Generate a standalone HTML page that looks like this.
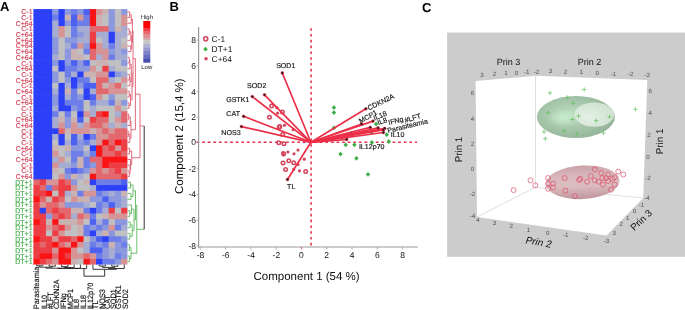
<!DOCTYPE html>
<html><head><meta charset="utf-8"><style>
html,body{margin:0;padding:0;background:#fff;width:685px;height:310px;overflow:hidden}
svg{display:block;font-family:"Liberation Sans", sans-serif;will-change:transform;text-rendering:geometricPrecision}
</style></head><body>
<svg width="685" height="310" viewBox="0 0 685 310" font-family="Liberation Sans, sans-serif">
<rect x="33.40" y="9.06" width="6.87" height="6.28" fill="rgb(44,64,248)"/>
<rect x="39.67" y="9.06" width="6.87" height="6.28" fill="rgb(44,64,248)"/>
<rect x="45.93" y="9.06" width="6.87" height="6.28" fill="rgb(44,64,248)"/>
<rect x="52.20" y="9.06" width="6.87" height="6.28" fill="rgb(140,152,222)"/>
<rect x="58.47" y="9.06" width="6.87" height="6.28" fill="rgb(44,64,248)"/>
<rect x="64.73" y="9.06" width="6.87" height="6.28" fill="rgb(140,152,222)"/>
<rect x="71.00" y="9.06" width="6.87" height="6.28" fill="rgb(110,126,232)"/>
<rect x="77.27" y="9.06" width="6.87" height="6.28" fill="rgb(140,152,222)"/>
<rect x="83.53" y="9.06" width="6.87" height="6.28" fill="rgb(76,96,242)"/>
<rect x="89.80" y="9.06" width="6.87" height="6.28" fill="rgb(250,20,22)"/>
<rect x="96.07" y="9.06" width="6.87" height="6.28" fill="rgb(214,148,150)"/>
<rect x="102.33" y="9.06" width="6.87" height="6.28" fill="rgb(203,178,178)"/>
<rect x="108.60" y="9.06" width="6.87" height="6.28" fill="rgb(140,152,222)"/>
<rect x="114.87" y="9.06" width="6.87" height="6.28" fill="rgb(192,192,195)"/>
<rect x="121.13" y="9.06" width="6.27" height="6.28" fill="rgb(140,152,222)"/>
<rect x="33.40" y="14.74" width="6.87" height="6.28" fill="rgb(44,64,248)"/>
<rect x="39.67" y="14.74" width="6.87" height="6.28" fill="rgb(44,64,248)"/>
<rect x="45.93" y="14.74" width="6.87" height="6.28" fill="rgb(44,64,248)"/>
<rect x="52.20" y="14.74" width="6.87" height="6.28" fill="rgb(110,126,232)"/>
<rect x="58.47" y="14.74" width="6.87" height="6.28" fill="rgb(44,64,248)"/>
<rect x="64.73" y="14.74" width="6.87" height="6.28" fill="rgb(203,178,178)"/>
<rect x="71.00" y="14.74" width="6.87" height="6.28" fill="rgb(76,96,242)"/>
<rect x="77.27" y="14.74" width="6.87" height="6.28" fill="rgb(214,148,150)"/>
<rect x="83.53" y="14.74" width="6.87" height="6.28" fill="rgb(110,126,232)"/>
<rect x="89.80" y="14.74" width="6.87" height="6.28" fill="rgb(250,20,22)"/>
<rect x="96.07" y="14.74" width="6.87" height="6.28" fill="rgb(203,178,178)"/>
<rect x="102.33" y="14.74" width="6.87" height="6.28" fill="rgb(192,192,195)"/>
<rect x="108.60" y="14.74" width="6.87" height="6.28" fill="rgb(140,152,222)"/>
<rect x="114.87" y="14.74" width="6.87" height="6.28" fill="rgb(192,192,195)"/>
<rect x="121.13" y="14.74" width="6.27" height="6.28" fill="rgb(214,148,150)"/>
<rect x="33.40" y="20.42" width="6.87" height="6.28" fill="rgb(44,64,248)"/>
<rect x="39.67" y="20.42" width="6.87" height="6.28" fill="rgb(44,64,248)"/>
<rect x="45.93" y="20.42" width="6.87" height="6.28" fill="rgb(44,64,248)"/>
<rect x="52.20" y="20.42" width="6.87" height="6.28" fill="rgb(166,172,210)"/>
<rect x="58.47" y="20.42" width="6.87" height="6.28" fill="rgb(44,64,248)"/>
<rect x="64.73" y="20.42" width="6.87" height="6.28" fill="rgb(140,152,222)"/>
<rect x="71.00" y="20.42" width="6.87" height="6.28" fill="rgb(76,96,242)"/>
<rect x="77.27" y="20.42" width="6.87" height="6.28" fill="rgb(110,126,232)"/>
<rect x="83.53" y="20.42" width="6.87" height="6.28" fill="rgb(110,126,232)"/>
<rect x="89.80" y="20.42" width="6.87" height="6.28" fill="rgb(250,20,22)"/>
<rect x="96.07" y="20.42" width="6.87" height="6.28" fill="rgb(203,178,178)"/>
<rect x="102.33" y="20.42" width="6.87" height="6.28" fill="rgb(192,192,195)"/>
<rect x="108.60" y="20.42" width="6.87" height="6.28" fill="rgb(140,152,222)"/>
<rect x="114.87" y="20.42" width="6.87" height="6.28" fill="rgb(192,192,195)"/>
<rect x="121.13" y="20.42" width="6.27" height="6.28" fill="rgb(214,148,150)"/>
<rect x="33.40" y="26.10" width="6.87" height="6.28" fill="rgb(44,64,248)"/>
<rect x="39.67" y="26.10" width="6.87" height="6.28" fill="rgb(44,64,248)"/>
<rect x="45.93" y="26.10" width="6.87" height="6.28" fill="rgb(44,64,248)"/>
<rect x="52.20" y="26.10" width="6.87" height="6.28" fill="rgb(166,172,210)"/>
<rect x="58.47" y="26.10" width="6.87" height="6.28" fill="rgb(214,148,150)"/>
<rect x="64.73" y="26.10" width="6.87" height="6.28" fill="rgb(192,192,195)"/>
<rect x="71.00" y="26.10" width="6.87" height="6.28" fill="rgb(110,126,232)"/>
<rect x="77.27" y="26.10" width="6.87" height="6.28" fill="rgb(166,172,210)"/>
<rect x="83.53" y="26.10" width="6.87" height="6.28" fill="rgb(166,172,210)"/>
<rect x="89.80" y="26.10" width="6.87" height="6.28" fill="rgb(226,104,110)"/>
<rect x="96.07" y="26.10" width="6.87" height="6.28" fill="rgb(226,104,110)"/>
<rect x="102.33" y="26.10" width="6.87" height="6.28" fill="rgb(226,104,110)"/>
<rect x="108.60" y="26.10" width="6.87" height="6.28" fill="rgb(140,152,222)"/>
<rect x="114.87" y="26.10" width="6.87" height="6.28" fill="rgb(203,178,178)"/>
<rect x="121.13" y="26.10" width="6.27" height="6.28" fill="rgb(166,172,210)"/>
<rect x="33.40" y="31.77" width="6.87" height="6.28" fill="rgb(44,64,248)"/>
<rect x="39.67" y="31.77" width="6.87" height="6.28" fill="rgb(44,64,248)"/>
<rect x="45.93" y="31.77" width="6.87" height="6.28" fill="rgb(44,64,248)"/>
<rect x="52.20" y="31.77" width="6.87" height="6.28" fill="rgb(166,172,210)"/>
<rect x="58.47" y="31.77" width="6.87" height="6.28" fill="rgb(214,148,150)"/>
<rect x="64.73" y="31.77" width="6.87" height="6.28" fill="rgb(192,192,195)"/>
<rect x="71.00" y="31.77" width="6.87" height="6.28" fill="rgb(110,126,232)"/>
<rect x="77.27" y="31.77" width="6.87" height="6.28" fill="rgb(140,152,222)"/>
<rect x="83.53" y="31.77" width="6.87" height="6.28" fill="rgb(166,172,210)"/>
<rect x="89.80" y="31.77" width="6.87" height="6.28" fill="rgb(236,62,68)"/>
<rect x="96.07" y="31.77" width="6.87" height="6.28" fill="rgb(166,172,210)"/>
<rect x="102.33" y="31.77" width="6.87" height="6.28" fill="rgb(166,172,210)"/>
<rect x="108.60" y="31.77" width="6.87" height="6.28" fill="rgb(44,64,248)"/>
<rect x="114.87" y="31.77" width="6.87" height="6.28" fill="rgb(166,172,210)"/>
<rect x="121.13" y="31.77" width="6.27" height="6.28" fill="rgb(166,172,210)"/>
<rect x="33.40" y="37.45" width="6.87" height="6.28" fill="rgb(44,64,248)"/>
<rect x="39.67" y="37.45" width="6.87" height="6.28" fill="rgb(44,64,248)"/>
<rect x="45.93" y="37.45" width="6.87" height="6.28" fill="rgb(44,64,248)"/>
<rect x="52.20" y="37.45" width="6.87" height="6.28" fill="rgb(140,152,222)"/>
<rect x="58.47" y="37.45" width="6.87" height="6.28" fill="rgb(192,192,195)"/>
<rect x="64.73" y="37.45" width="6.87" height="6.28" fill="rgb(140,152,222)"/>
<rect x="71.00" y="37.45" width="6.87" height="6.28" fill="rgb(140,152,222)"/>
<rect x="77.27" y="37.45" width="6.87" height="6.28" fill="rgb(166,172,210)"/>
<rect x="83.53" y="37.45" width="6.87" height="6.28" fill="rgb(166,172,210)"/>
<rect x="89.80" y="37.45" width="6.87" height="6.28" fill="rgb(236,62,68)"/>
<rect x="96.07" y="37.45" width="6.87" height="6.28" fill="rgb(192,192,195)"/>
<rect x="102.33" y="37.45" width="6.87" height="6.28" fill="rgb(166,172,210)"/>
<rect x="108.60" y="37.45" width="6.87" height="6.28" fill="rgb(44,64,248)"/>
<rect x="114.87" y="37.45" width="6.87" height="6.28" fill="rgb(166,172,210)"/>
<rect x="121.13" y="37.45" width="6.27" height="6.28" fill="rgb(192,192,195)"/>
<rect x="33.40" y="43.13" width="6.87" height="6.28" fill="rgb(44,64,248)"/>
<rect x="39.67" y="43.13" width="6.87" height="6.28" fill="rgb(44,64,248)"/>
<rect x="45.93" y="43.13" width="6.87" height="6.28" fill="rgb(44,64,248)"/>
<rect x="52.20" y="43.13" width="6.87" height="6.28" fill="rgb(140,152,222)"/>
<rect x="58.47" y="43.13" width="6.87" height="6.28" fill="rgb(192,192,195)"/>
<rect x="64.73" y="43.13" width="6.87" height="6.28" fill="rgb(166,172,210)"/>
<rect x="71.00" y="43.13" width="6.87" height="6.28" fill="rgb(110,126,232)"/>
<rect x="77.27" y="43.13" width="6.87" height="6.28" fill="rgb(214,148,150)"/>
<rect x="83.53" y="43.13" width="6.87" height="6.28" fill="rgb(140,152,222)"/>
<rect x="89.80" y="43.13" width="6.87" height="6.28" fill="rgb(250,20,22)"/>
<rect x="96.07" y="43.13" width="6.87" height="6.28" fill="rgb(214,148,150)"/>
<rect x="102.33" y="43.13" width="6.87" height="6.28" fill="rgb(166,172,210)"/>
<rect x="108.60" y="43.13" width="6.87" height="6.28" fill="rgb(110,126,232)"/>
<rect x="114.87" y="43.13" width="6.87" height="6.28" fill="rgb(166,172,210)"/>
<rect x="121.13" y="43.13" width="6.27" height="6.28" fill="rgb(203,178,178)"/>
<rect x="33.40" y="48.81" width="6.87" height="6.28" fill="rgb(44,64,248)"/>
<rect x="39.67" y="48.81" width="6.87" height="6.28" fill="rgb(44,64,248)"/>
<rect x="45.93" y="48.81" width="6.87" height="6.28" fill="rgb(44,64,248)"/>
<rect x="52.20" y="48.81" width="6.87" height="6.28" fill="rgb(140,152,222)"/>
<rect x="58.47" y="48.81" width="6.87" height="6.28" fill="rgb(192,192,195)"/>
<rect x="64.73" y="48.81" width="6.87" height="6.28" fill="rgb(140,152,222)"/>
<rect x="71.00" y="48.81" width="6.87" height="6.28" fill="rgb(203,178,178)"/>
<rect x="77.27" y="48.81" width="6.87" height="6.28" fill="rgb(192,192,195)"/>
<rect x="83.53" y="48.81" width="6.87" height="6.28" fill="rgb(110,126,232)"/>
<rect x="89.80" y="48.81" width="6.87" height="6.28" fill="rgb(226,104,110)"/>
<rect x="96.07" y="48.81" width="6.87" height="6.28" fill="rgb(214,148,150)"/>
<rect x="102.33" y="48.81" width="6.87" height="6.28" fill="rgb(214,148,150)"/>
<rect x="108.60" y="48.81" width="6.87" height="6.28" fill="rgb(140,152,222)"/>
<rect x="114.87" y="48.81" width="6.87" height="6.28" fill="rgb(166,172,210)"/>
<rect x="121.13" y="48.81" width="6.27" height="6.28" fill="rgb(140,152,222)"/>
<rect x="33.40" y="54.49" width="6.87" height="6.28" fill="rgb(44,64,248)"/>
<rect x="39.67" y="54.49" width="6.87" height="6.28" fill="rgb(44,64,248)"/>
<rect x="45.93" y="54.49" width="6.87" height="6.28" fill="rgb(44,64,248)"/>
<rect x="52.20" y="54.49" width="6.87" height="6.28" fill="rgb(166,172,210)"/>
<rect x="58.47" y="54.49" width="6.87" height="6.28" fill="rgb(192,192,195)"/>
<rect x="64.73" y="54.49" width="6.87" height="6.28" fill="rgb(140,152,222)"/>
<rect x="71.00" y="54.49" width="6.87" height="6.28" fill="rgb(203,178,178)"/>
<rect x="77.27" y="54.49" width="6.87" height="6.28" fill="rgb(203,178,178)"/>
<rect x="83.53" y="54.49" width="6.87" height="6.28" fill="rgb(192,192,195)"/>
<rect x="89.80" y="54.49" width="6.87" height="6.28" fill="rgb(226,104,110)"/>
<rect x="96.07" y="54.49" width="6.87" height="6.28" fill="rgb(166,172,210)"/>
<rect x="102.33" y="54.49" width="6.87" height="6.28" fill="rgb(214,148,150)"/>
<rect x="108.60" y="54.49" width="6.87" height="6.28" fill="rgb(110,126,232)"/>
<rect x="114.87" y="54.49" width="6.87" height="6.28" fill="rgb(166,172,210)"/>
<rect x="121.13" y="54.49" width="6.27" height="6.28" fill="rgb(166,172,210)"/>
<rect x="33.40" y="60.17" width="6.87" height="6.28" fill="rgb(44,64,248)"/>
<rect x="39.67" y="60.17" width="6.87" height="6.28" fill="rgb(44,64,248)"/>
<rect x="45.93" y="60.17" width="6.87" height="6.28" fill="rgb(44,64,248)"/>
<rect x="52.20" y="60.17" width="6.87" height="6.28" fill="rgb(140,152,222)"/>
<rect x="58.47" y="60.17" width="6.87" height="6.28" fill="rgb(44,64,248)"/>
<rect x="64.73" y="60.17" width="6.87" height="6.28" fill="rgb(140,152,222)"/>
<rect x="71.00" y="60.17" width="6.87" height="6.28" fill="rgb(76,96,242)"/>
<rect x="77.27" y="60.17" width="6.87" height="6.28" fill="rgb(140,152,222)"/>
<rect x="83.53" y="60.17" width="6.87" height="6.28" fill="rgb(76,96,242)"/>
<rect x="89.80" y="60.17" width="6.87" height="6.28" fill="rgb(192,192,195)"/>
<rect x="96.07" y="60.17" width="6.87" height="6.28" fill="rgb(203,178,178)"/>
<rect x="102.33" y="60.17" width="6.87" height="6.28" fill="rgb(203,178,178)"/>
<rect x="108.60" y="60.17" width="6.87" height="6.28" fill="rgb(192,192,195)"/>
<rect x="114.87" y="60.17" width="6.87" height="6.28" fill="rgb(192,192,195)"/>
<rect x="121.13" y="60.17" width="6.27" height="6.28" fill="rgb(140,152,222)"/>
<rect x="33.40" y="65.85" width="6.87" height="6.28" fill="rgb(44,64,248)"/>
<rect x="39.67" y="65.85" width="6.87" height="6.28" fill="rgb(44,64,248)"/>
<rect x="45.93" y="65.85" width="6.87" height="6.28" fill="rgb(44,64,248)"/>
<rect x="52.20" y="65.85" width="6.87" height="6.28" fill="rgb(192,192,195)"/>
<rect x="58.47" y="65.85" width="6.87" height="6.28" fill="rgb(44,64,248)"/>
<rect x="64.73" y="65.85" width="6.87" height="6.28" fill="rgb(110,126,232)"/>
<rect x="71.00" y="65.85" width="6.87" height="6.28" fill="rgb(110,126,232)"/>
<rect x="77.27" y="65.85" width="6.87" height="6.28" fill="rgb(140,152,222)"/>
<rect x="83.53" y="65.85" width="6.87" height="6.28" fill="rgb(140,152,222)"/>
<rect x="89.80" y="65.85" width="6.87" height="6.28" fill="rgb(214,148,150)"/>
<rect x="96.07" y="65.85" width="6.87" height="6.28" fill="rgb(192,192,195)"/>
<rect x="102.33" y="65.85" width="6.87" height="6.28" fill="rgb(236,62,68)"/>
<rect x="108.60" y="65.85" width="6.87" height="6.28" fill="rgb(166,172,210)"/>
<rect x="114.87" y="65.85" width="6.87" height="6.28" fill="rgb(192,192,195)"/>
<rect x="121.13" y="65.85" width="6.27" height="6.28" fill="rgb(192,192,195)"/>
<rect x="33.40" y="71.53" width="6.87" height="6.28" fill="rgb(44,64,248)"/>
<rect x="39.67" y="71.53" width="6.87" height="6.28" fill="rgb(44,64,248)"/>
<rect x="45.93" y="71.53" width="6.87" height="6.28" fill="rgb(44,64,248)"/>
<rect x="52.20" y="71.53" width="6.87" height="6.28" fill="rgb(140,152,222)"/>
<rect x="58.47" y="71.53" width="6.87" height="6.28" fill="rgb(192,192,195)"/>
<rect x="64.73" y="71.53" width="6.87" height="6.28" fill="rgb(110,126,232)"/>
<rect x="71.00" y="71.53" width="6.87" height="6.28" fill="rgb(166,172,210)"/>
<rect x="77.27" y="71.53" width="6.87" height="6.28" fill="rgb(44,64,248)"/>
<rect x="83.53" y="71.53" width="6.87" height="6.28" fill="rgb(203,178,178)"/>
<rect x="89.80" y="71.53" width="6.87" height="6.28" fill="rgb(203,178,178)"/>
<rect x="96.07" y="71.53" width="6.87" height="6.28" fill="rgb(214,148,150)"/>
<rect x="102.33" y="71.53" width="6.87" height="6.28" fill="rgb(214,148,150)"/>
<rect x="108.60" y="71.53" width="6.87" height="6.28" fill="rgb(44,64,248)"/>
<rect x="114.87" y="71.53" width="6.87" height="6.28" fill="rgb(140,152,222)"/>
<rect x="121.13" y="71.53" width="6.27" height="6.28" fill="rgb(166,172,210)"/>
<rect x="33.40" y="77.20" width="6.87" height="6.28" fill="rgb(44,64,248)"/>
<rect x="39.67" y="77.20" width="6.87" height="6.28" fill="rgb(44,64,248)"/>
<rect x="45.93" y="77.20" width="6.87" height="6.28" fill="rgb(44,64,248)"/>
<rect x="52.20" y="77.20" width="6.87" height="6.28" fill="rgb(140,152,222)"/>
<rect x="58.47" y="77.20" width="6.87" height="6.28" fill="rgb(192,192,195)"/>
<rect x="64.73" y="77.20" width="6.87" height="6.28" fill="rgb(140,152,222)"/>
<rect x="71.00" y="77.20" width="6.87" height="6.28" fill="rgb(44,64,248)"/>
<rect x="77.27" y="77.20" width="6.87" height="6.28" fill="rgb(110,126,232)"/>
<rect x="83.53" y="77.20" width="6.87" height="6.28" fill="rgb(110,126,232)"/>
<rect x="89.80" y="77.20" width="6.87" height="6.28" fill="rgb(192,192,195)"/>
<rect x="96.07" y="77.20" width="6.87" height="6.28" fill="rgb(226,104,110)"/>
<rect x="102.33" y="77.20" width="6.87" height="6.28" fill="rgb(226,104,110)"/>
<rect x="108.60" y="77.20" width="6.87" height="6.28" fill="rgb(166,172,210)"/>
<rect x="114.87" y="77.20" width="6.87" height="6.28" fill="rgb(192,192,195)"/>
<rect x="121.13" y="77.20" width="6.27" height="6.28" fill="rgb(214,148,150)"/>
<rect x="33.40" y="82.88" width="6.87" height="6.28" fill="rgb(44,64,248)"/>
<rect x="39.67" y="82.88" width="6.87" height="6.28" fill="rgb(44,64,248)"/>
<rect x="45.93" y="82.88" width="6.87" height="6.28" fill="rgb(44,64,248)"/>
<rect x="52.20" y="82.88" width="6.87" height="6.28" fill="rgb(192,192,195)"/>
<rect x="58.47" y="82.88" width="6.87" height="6.28" fill="rgb(44,64,248)"/>
<rect x="64.73" y="82.88" width="6.87" height="6.28" fill="rgb(166,172,210)"/>
<rect x="71.00" y="82.88" width="6.87" height="6.28" fill="rgb(44,64,248)"/>
<rect x="77.27" y="82.88" width="6.87" height="6.28" fill="rgb(140,152,222)"/>
<rect x="83.53" y="82.88" width="6.87" height="6.28" fill="rgb(76,96,242)"/>
<rect x="89.80" y="82.88" width="6.87" height="6.28" fill="rgb(76,96,242)"/>
<rect x="96.07" y="82.88" width="6.87" height="6.28" fill="rgb(226,104,110)"/>
<rect x="102.33" y="82.88" width="6.87" height="6.28" fill="rgb(203,178,178)"/>
<rect x="108.60" y="82.88" width="6.87" height="6.28" fill="rgb(214,148,150)"/>
<rect x="114.87" y="82.88" width="6.87" height="6.28" fill="rgb(226,104,110)"/>
<rect x="121.13" y="82.88" width="6.27" height="6.28" fill="rgb(192,192,195)"/>
<rect x="33.40" y="88.56" width="6.87" height="6.28" fill="rgb(44,64,248)"/>
<rect x="39.67" y="88.56" width="6.87" height="6.28" fill="rgb(44,64,248)"/>
<rect x="45.93" y="88.56" width="6.87" height="6.28" fill="rgb(44,64,248)"/>
<rect x="52.20" y="88.56" width="6.87" height="6.28" fill="rgb(166,172,210)"/>
<rect x="58.47" y="88.56" width="6.87" height="6.28" fill="rgb(44,64,248)"/>
<rect x="64.73" y="88.56" width="6.87" height="6.28" fill="rgb(203,178,178)"/>
<rect x="71.00" y="88.56" width="6.87" height="6.28" fill="rgb(110,126,232)"/>
<rect x="77.27" y="88.56" width="6.87" height="6.28" fill="rgb(192,192,195)"/>
<rect x="83.53" y="88.56" width="6.87" height="6.28" fill="rgb(44,64,248)"/>
<rect x="89.80" y="88.56" width="6.87" height="6.28" fill="rgb(166,172,210)"/>
<rect x="96.07" y="88.56" width="6.87" height="6.28" fill="rgb(226,104,110)"/>
<rect x="102.33" y="88.56" width="6.87" height="6.28" fill="rgb(226,104,110)"/>
<rect x="108.60" y="88.56" width="6.87" height="6.28" fill="rgb(214,148,150)"/>
<rect x="114.87" y="88.56" width="6.87" height="6.28" fill="rgb(214,148,150)"/>
<rect x="121.13" y="88.56" width="6.27" height="6.28" fill="rgb(214,148,150)"/>
<rect x="33.40" y="94.24" width="6.87" height="6.28" fill="rgb(44,64,248)"/>
<rect x="39.67" y="94.24" width="6.87" height="6.28" fill="rgb(44,64,248)"/>
<rect x="45.93" y="94.24" width="6.87" height="6.28" fill="rgb(44,64,248)"/>
<rect x="52.20" y="94.24" width="6.87" height="6.28" fill="rgb(140,152,222)"/>
<rect x="58.47" y="94.24" width="6.87" height="6.28" fill="rgb(44,64,248)"/>
<rect x="64.73" y="94.24" width="6.87" height="6.28" fill="rgb(166,172,210)"/>
<rect x="71.00" y="94.24" width="6.87" height="6.28" fill="rgb(110,126,232)"/>
<rect x="77.27" y="94.24" width="6.87" height="6.28" fill="rgb(140,152,222)"/>
<rect x="83.53" y="94.24" width="6.87" height="6.28" fill="rgb(44,64,248)"/>
<rect x="89.80" y="94.24" width="6.87" height="6.28" fill="rgb(76,96,242)"/>
<rect x="96.07" y="94.24" width="6.87" height="6.28" fill="rgb(214,148,150)"/>
<rect x="102.33" y="94.24" width="6.87" height="6.28" fill="rgb(192,192,195)"/>
<rect x="108.60" y="94.24" width="6.87" height="6.28" fill="rgb(140,152,222)"/>
<rect x="114.87" y="94.24" width="6.87" height="6.28" fill="rgb(192,192,195)"/>
<rect x="121.13" y="94.24" width="6.27" height="6.28" fill="rgb(192,192,195)"/>
<rect x="33.40" y="99.92" width="6.87" height="6.28" fill="rgb(44,64,248)"/>
<rect x="39.67" y="99.92" width="6.87" height="6.28" fill="rgb(44,64,248)"/>
<rect x="45.93" y="99.92" width="6.87" height="6.28" fill="rgb(44,64,248)"/>
<rect x="52.20" y="99.92" width="6.87" height="6.28" fill="rgb(140,152,222)"/>
<rect x="58.47" y="99.92" width="6.87" height="6.28" fill="rgb(44,64,248)"/>
<rect x="64.73" y="99.92" width="6.87" height="6.28" fill="rgb(110,126,232)"/>
<rect x="71.00" y="99.92" width="6.87" height="6.28" fill="rgb(110,126,232)"/>
<rect x="77.27" y="99.92" width="6.87" height="6.28" fill="rgb(110,126,232)"/>
<rect x="83.53" y="99.92" width="6.87" height="6.28" fill="rgb(192,192,195)"/>
<rect x="89.80" y="99.92" width="6.87" height="6.28" fill="rgb(110,126,232)"/>
<rect x="96.07" y="99.92" width="6.87" height="6.28" fill="rgb(166,172,210)"/>
<rect x="102.33" y="99.92" width="6.87" height="6.28" fill="rgb(166,172,210)"/>
<rect x="108.60" y="99.92" width="6.87" height="6.28" fill="rgb(110,126,232)"/>
<rect x="114.87" y="99.92" width="6.87" height="6.28" fill="rgb(203,178,178)"/>
<rect x="121.13" y="99.92" width="6.27" height="6.28" fill="rgb(140,152,222)"/>
<rect x="33.40" y="105.60" width="6.87" height="6.28" fill="rgb(44,64,248)"/>
<rect x="39.67" y="105.60" width="6.87" height="6.28" fill="rgb(44,64,248)"/>
<rect x="45.93" y="105.60" width="6.87" height="6.28" fill="rgb(44,64,248)"/>
<rect x="52.20" y="105.60" width="6.87" height="6.28" fill="rgb(166,172,210)"/>
<rect x="58.47" y="105.60" width="6.87" height="6.28" fill="rgb(44,64,248)"/>
<rect x="64.73" y="105.60" width="6.87" height="6.28" fill="rgb(44,64,248)"/>
<rect x="71.00" y="105.60" width="6.87" height="6.28" fill="rgb(140,152,222)"/>
<rect x="77.27" y="105.60" width="6.87" height="6.28" fill="rgb(110,126,232)"/>
<rect x="83.53" y="105.60" width="6.87" height="6.28" fill="rgb(192,192,195)"/>
<rect x="89.80" y="105.60" width="6.87" height="6.28" fill="rgb(166,172,210)"/>
<rect x="96.07" y="105.60" width="6.87" height="6.28" fill="rgb(192,192,195)"/>
<rect x="102.33" y="105.60" width="6.87" height="6.28" fill="rgb(192,192,195)"/>
<rect x="108.60" y="105.60" width="6.87" height="6.28" fill="rgb(192,192,195)"/>
<rect x="114.87" y="105.60" width="6.87" height="6.28" fill="rgb(214,148,150)"/>
<rect x="121.13" y="105.60" width="6.27" height="6.28" fill="rgb(192,192,195)"/>
<rect x="33.40" y="111.28" width="6.87" height="6.28" fill="rgb(44,64,248)"/>
<rect x="39.67" y="111.28" width="6.87" height="6.28" fill="rgb(44,64,248)"/>
<rect x="45.93" y="111.28" width="6.87" height="6.28" fill="rgb(44,64,248)"/>
<rect x="52.20" y="111.28" width="6.87" height="6.28" fill="rgb(110,126,232)"/>
<rect x="58.47" y="111.28" width="6.87" height="6.28" fill="rgb(192,192,195)"/>
<rect x="64.73" y="111.28" width="6.87" height="6.28" fill="rgb(110,126,232)"/>
<rect x="71.00" y="111.28" width="6.87" height="6.28" fill="rgb(192,192,195)"/>
<rect x="77.27" y="111.28" width="6.87" height="6.28" fill="rgb(44,64,248)"/>
<rect x="83.53" y="111.28" width="6.87" height="6.28" fill="rgb(214,148,150)"/>
<rect x="89.80" y="111.28" width="6.87" height="6.28" fill="rgb(166,172,210)"/>
<rect x="96.07" y="111.28" width="6.87" height="6.28" fill="rgb(236,62,68)"/>
<rect x="102.33" y="111.28" width="6.87" height="6.28" fill="rgb(250,20,22)"/>
<rect x="108.60" y="111.28" width="6.87" height="6.28" fill="rgb(192,192,195)"/>
<rect x="114.87" y="111.28" width="6.87" height="6.28" fill="rgb(166,172,210)"/>
<rect x="121.13" y="111.28" width="6.27" height="6.28" fill="rgb(226,104,110)"/>
<rect x="33.40" y="116.95" width="6.87" height="6.28" fill="rgb(44,64,248)"/>
<rect x="39.67" y="116.95" width="6.87" height="6.28" fill="rgb(44,64,248)"/>
<rect x="45.93" y="116.95" width="6.87" height="6.28" fill="rgb(44,64,248)"/>
<rect x="52.20" y="116.95" width="6.87" height="6.28" fill="rgb(166,172,210)"/>
<rect x="58.47" y="116.95" width="6.87" height="6.28" fill="rgb(203,178,178)"/>
<rect x="64.73" y="116.95" width="6.87" height="6.28" fill="rgb(140,152,222)"/>
<rect x="71.00" y="116.95" width="6.87" height="6.28" fill="rgb(203,178,178)"/>
<rect x="77.27" y="116.95" width="6.87" height="6.28" fill="rgb(76,96,242)"/>
<rect x="83.53" y="116.95" width="6.87" height="6.28" fill="rgb(192,192,195)"/>
<rect x="89.80" y="116.95" width="6.87" height="6.28" fill="rgb(236,62,68)"/>
<rect x="96.07" y="116.95" width="6.87" height="6.28" fill="rgb(226,104,110)"/>
<rect x="102.33" y="116.95" width="6.87" height="6.28" fill="rgb(226,104,110)"/>
<rect x="108.60" y="116.95" width="6.87" height="6.28" fill="rgb(192,192,195)"/>
<rect x="114.87" y="116.95" width="6.87" height="6.28" fill="rgb(214,148,150)"/>
<rect x="121.13" y="116.95" width="6.27" height="6.28" fill="rgb(226,104,110)"/>
<rect x="33.40" y="122.63" width="6.87" height="6.28" fill="rgb(44,64,248)"/>
<rect x="39.67" y="122.63" width="6.87" height="6.28" fill="rgb(44,64,248)"/>
<rect x="45.93" y="122.63" width="6.87" height="6.28" fill="rgb(44,64,248)"/>
<rect x="52.20" y="122.63" width="6.87" height="6.28" fill="rgb(166,172,210)"/>
<rect x="58.47" y="122.63" width="6.87" height="6.28" fill="rgb(214,148,150)"/>
<rect x="64.73" y="122.63" width="6.87" height="6.28" fill="rgb(140,152,222)"/>
<rect x="71.00" y="122.63" width="6.87" height="6.28" fill="rgb(214,148,150)"/>
<rect x="77.27" y="122.63" width="6.87" height="6.28" fill="rgb(166,172,210)"/>
<rect x="83.53" y="122.63" width="6.87" height="6.28" fill="rgb(214,148,150)"/>
<rect x="89.80" y="122.63" width="6.87" height="6.28" fill="rgb(226,104,110)"/>
<rect x="96.07" y="122.63" width="6.87" height="6.28" fill="rgb(226,104,110)"/>
<rect x="102.33" y="122.63" width="6.87" height="6.28" fill="rgb(214,148,150)"/>
<rect x="108.60" y="122.63" width="6.87" height="6.28" fill="rgb(166,172,210)"/>
<rect x="114.87" y="122.63" width="6.87" height="6.28" fill="rgb(203,178,178)"/>
<rect x="121.13" y="122.63" width="6.27" height="6.28" fill="rgb(166,172,210)"/>
<rect x="33.40" y="128.31" width="6.87" height="6.28" fill="rgb(44,64,248)"/>
<rect x="39.67" y="128.31" width="6.87" height="6.28" fill="rgb(44,64,248)"/>
<rect x="45.93" y="128.31" width="6.87" height="6.28" fill="rgb(44,64,248)"/>
<rect x="52.20" y="128.31" width="6.87" height="6.28" fill="rgb(44,64,248)"/>
<rect x="58.47" y="128.31" width="6.87" height="6.28" fill="rgb(226,104,110)"/>
<rect x="64.73" y="128.31" width="6.87" height="6.28" fill="rgb(203,178,178)"/>
<rect x="71.00" y="128.31" width="6.87" height="6.28" fill="rgb(214,148,150)"/>
<rect x="77.27" y="128.31" width="6.87" height="6.28" fill="rgb(214,148,150)"/>
<rect x="83.53" y="128.31" width="6.87" height="6.28" fill="rgb(214,148,150)"/>
<rect x="89.80" y="128.31" width="6.87" height="6.28" fill="rgb(203,178,178)"/>
<rect x="96.07" y="128.31" width="6.87" height="6.28" fill="rgb(214,148,150)"/>
<rect x="102.33" y="128.31" width="6.87" height="6.28" fill="rgb(226,104,110)"/>
<rect x="108.60" y="128.31" width="6.87" height="6.28" fill="rgb(214,148,150)"/>
<rect x="114.87" y="128.31" width="6.87" height="6.28" fill="rgb(226,104,110)"/>
<rect x="121.13" y="128.31" width="6.27" height="6.28" fill="rgb(226,104,110)"/>
<rect x="33.40" y="133.99" width="6.87" height="6.28" fill="rgb(44,64,248)"/>
<rect x="39.67" y="133.99" width="6.87" height="6.28" fill="rgb(44,64,248)"/>
<rect x="45.93" y="133.99" width="6.87" height="6.28" fill="rgb(44,64,248)"/>
<rect x="52.20" y="133.99" width="6.87" height="6.28" fill="rgb(166,172,210)"/>
<rect x="58.47" y="133.99" width="6.87" height="6.28" fill="rgb(44,64,248)"/>
<rect x="64.73" y="133.99" width="6.87" height="6.28" fill="rgb(192,192,195)"/>
<rect x="71.00" y="133.99" width="6.87" height="6.28" fill="rgb(76,96,242)"/>
<rect x="77.27" y="133.99" width="6.87" height="6.28" fill="rgb(166,172,210)"/>
<rect x="83.53" y="133.99" width="6.87" height="6.28" fill="rgb(44,64,248)"/>
<rect x="89.80" y="133.99" width="6.87" height="6.28" fill="rgb(110,126,232)"/>
<rect x="96.07" y="133.99" width="6.87" height="6.28" fill="rgb(214,148,150)"/>
<rect x="102.33" y="133.99" width="6.87" height="6.28" fill="rgb(214,148,150)"/>
<rect x="108.60" y="133.99" width="6.87" height="6.28" fill="rgb(226,104,110)"/>
<rect x="114.87" y="133.99" width="6.87" height="6.28" fill="rgb(226,104,110)"/>
<rect x="121.13" y="133.99" width="6.27" height="6.28" fill="rgb(226,104,110)"/>
<rect x="33.40" y="139.67" width="6.87" height="6.28" fill="rgb(44,64,248)"/>
<rect x="39.67" y="139.67" width="6.87" height="6.28" fill="rgb(44,64,248)"/>
<rect x="45.93" y="139.67" width="6.87" height="6.28" fill="rgb(44,64,248)"/>
<rect x="52.20" y="139.67" width="6.87" height="6.28" fill="rgb(192,192,195)"/>
<rect x="58.47" y="139.67" width="6.87" height="6.28" fill="rgb(44,64,248)"/>
<rect x="64.73" y="139.67" width="6.87" height="6.28" fill="rgb(166,172,210)"/>
<rect x="71.00" y="139.67" width="6.87" height="6.28" fill="rgb(76,96,242)"/>
<rect x="77.27" y="139.67" width="6.87" height="6.28" fill="rgb(140,152,222)"/>
<rect x="83.53" y="139.67" width="6.87" height="6.28" fill="rgb(110,126,232)"/>
<rect x="89.80" y="139.67" width="6.87" height="6.28" fill="rgb(166,172,210)"/>
<rect x="96.07" y="139.67" width="6.87" height="6.28" fill="rgb(214,148,150)"/>
<rect x="102.33" y="139.67" width="6.87" height="6.28" fill="rgb(250,20,22)"/>
<rect x="108.60" y="139.67" width="6.87" height="6.28" fill="rgb(226,104,110)"/>
<rect x="114.87" y="139.67" width="6.87" height="6.28" fill="rgb(250,20,22)"/>
<rect x="121.13" y="139.67" width="6.27" height="6.28" fill="rgb(236,62,68)"/>
<rect x="33.40" y="145.35" width="6.87" height="6.28" fill="rgb(44,64,248)"/>
<rect x="39.67" y="145.35" width="6.87" height="6.28" fill="rgb(44,64,248)"/>
<rect x="45.93" y="145.35" width="6.87" height="6.28" fill="rgb(44,64,248)"/>
<rect x="52.20" y="145.35" width="6.87" height="6.28" fill="rgb(203,178,178)"/>
<rect x="58.47" y="145.35" width="6.87" height="6.28" fill="rgb(192,192,195)"/>
<rect x="64.73" y="145.35" width="6.87" height="6.28" fill="rgb(203,178,178)"/>
<rect x="71.00" y="145.35" width="6.87" height="6.28" fill="rgb(140,152,222)"/>
<rect x="77.27" y="145.35" width="6.87" height="6.28" fill="rgb(140,152,222)"/>
<rect x="83.53" y="145.35" width="6.87" height="6.28" fill="rgb(192,192,195)"/>
<rect x="89.80" y="145.35" width="6.87" height="6.28" fill="rgb(44,64,248)"/>
<rect x="96.07" y="145.35" width="6.87" height="6.28" fill="rgb(250,20,22)"/>
<rect x="102.33" y="145.35" width="6.87" height="6.28" fill="rgb(226,104,110)"/>
<rect x="108.60" y="145.35" width="6.87" height="6.28" fill="rgb(236,62,68)"/>
<rect x="114.87" y="145.35" width="6.87" height="6.28" fill="rgb(214,148,150)"/>
<rect x="121.13" y="145.35" width="6.27" height="6.28" fill="rgb(236,62,68)"/>
<rect x="33.40" y="151.03" width="6.87" height="6.28" fill="rgb(44,64,248)"/>
<rect x="39.67" y="151.03" width="6.87" height="6.28" fill="rgb(44,64,248)"/>
<rect x="45.93" y="151.03" width="6.87" height="6.28" fill="rgb(44,64,248)"/>
<rect x="52.20" y="151.03" width="6.87" height="6.28" fill="rgb(214,148,150)"/>
<rect x="58.47" y="151.03" width="6.87" height="6.28" fill="rgb(192,192,195)"/>
<rect x="64.73" y="151.03" width="6.87" height="6.28" fill="rgb(166,172,210)"/>
<rect x="71.00" y="151.03" width="6.87" height="6.28" fill="rgb(110,126,232)"/>
<rect x="77.27" y="151.03" width="6.87" height="6.28" fill="rgb(110,126,232)"/>
<rect x="83.53" y="151.03" width="6.87" height="6.28" fill="rgb(166,172,210)"/>
<rect x="89.80" y="151.03" width="6.87" height="6.28" fill="rgb(110,126,232)"/>
<rect x="96.07" y="151.03" width="6.87" height="6.28" fill="rgb(250,20,22)"/>
<rect x="102.33" y="151.03" width="6.87" height="6.28" fill="rgb(226,104,110)"/>
<rect x="108.60" y="151.03" width="6.87" height="6.28" fill="rgb(226,104,110)"/>
<rect x="114.87" y="151.03" width="6.87" height="6.28" fill="rgb(236,62,68)"/>
<rect x="121.13" y="151.03" width="6.27" height="6.28" fill="rgb(226,104,110)"/>
<rect x="33.40" y="156.71" width="6.87" height="6.28" fill="rgb(44,64,248)"/>
<rect x="39.67" y="156.71" width="6.87" height="6.28" fill="rgb(44,64,248)"/>
<rect x="45.93" y="156.71" width="6.87" height="6.28" fill="rgb(44,64,248)"/>
<rect x="52.20" y="156.71" width="6.87" height="6.28" fill="rgb(166,172,210)"/>
<rect x="58.47" y="156.71" width="6.87" height="6.28" fill="rgb(214,148,150)"/>
<rect x="64.73" y="156.71" width="6.87" height="6.28" fill="rgb(192,192,195)"/>
<rect x="71.00" y="156.71" width="6.87" height="6.28" fill="rgb(110,126,232)"/>
<rect x="77.27" y="156.71" width="6.87" height="6.28" fill="rgb(203,178,178)"/>
<rect x="83.53" y="156.71" width="6.87" height="6.28" fill="rgb(110,126,232)"/>
<rect x="89.80" y="156.71" width="6.87" height="6.28" fill="rgb(226,104,110)"/>
<rect x="96.07" y="156.71" width="6.87" height="6.28" fill="rgb(226,104,110)"/>
<rect x="102.33" y="156.71" width="6.87" height="6.28" fill="rgb(250,20,22)"/>
<rect x="108.60" y="156.71" width="6.87" height="6.28" fill="rgb(250,20,22)"/>
<rect x="114.87" y="156.71" width="6.87" height="6.28" fill="rgb(250,20,22)"/>
<rect x="121.13" y="156.71" width="6.27" height="6.28" fill="rgb(250,20,22)"/>
<rect x="33.40" y="162.38" width="6.87" height="6.28" fill="rgb(44,64,248)"/>
<rect x="39.67" y="162.38" width="6.87" height="6.28" fill="rgb(44,64,248)"/>
<rect x="45.93" y="162.38" width="6.87" height="6.28" fill="rgb(44,64,248)"/>
<rect x="52.20" y="162.38" width="6.87" height="6.28" fill="rgb(214,148,150)"/>
<rect x="58.47" y="162.38" width="6.87" height="6.28" fill="rgb(166,172,210)"/>
<rect x="64.73" y="162.38" width="6.87" height="6.28" fill="rgb(166,172,210)"/>
<rect x="71.00" y="162.38" width="6.87" height="6.28" fill="rgb(140,152,222)"/>
<rect x="77.27" y="162.38" width="6.87" height="6.28" fill="rgb(203,178,178)"/>
<rect x="83.53" y="162.38" width="6.87" height="6.28" fill="rgb(110,126,232)"/>
<rect x="89.80" y="162.38" width="6.87" height="6.28" fill="rgb(140,152,222)"/>
<rect x="96.07" y="162.38" width="6.87" height="6.28" fill="rgb(226,104,110)"/>
<rect x="102.33" y="162.38" width="6.87" height="6.28" fill="rgb(250,20,22)"/>
<rect x="108.60" y="162.38" width="6.87" height="6.28" fill="rgb(236,62,68)"/>
<rect x="114.87" y="162.38" width="6.87" height="6.28" fill="rgb(236,62,68)"/>
<rect x="121.13" y="162.38" width="6.27" height="6.28" fill="rgb(236,62,68)"/>
<rect x="33.40" y="168.06" width="6.87" height="6.28" fill="rgb(44,64,248)"/>
<rect x="39.67" y="168.06" width="6.87" height="6.28" fill="rgb(44,64,248)"/>
<rect x="45.93" y="168.06" width="6.87" height="6.28" fill="rgb(44,64,248)"/>
<rect x="52.20" y="168.06" width="6.87" height="6.28" fill="rgb(203,178,178)"/>
<rect x="58.47" y="168.06" width="6.87" height="6.28" fill="rgb(192,192,195)"/>
<rect x="64.73" y="168.06" width="6.87" height="6.28" fill="rgb(110,126,232)"/>
<rect x="71.00" y="168.06" width="6.87" height="6.28" fill="rgb(76,96,242)"/>
<rect x="77.27" y="168.06" width="6.87" height="6.28" fill="rgb(110,126,232)"/>
<rect x="83.53" y="168.06" width="6.87" height="6.28" fill="rgb(140,152,222)"/>
<rect x="89.80" y="168.06" width="6.87" height="6.28" fill="rgb(214,148,150)"/>
<rect x="96.07" y="168.06" width="6.87" height="6.28" fill="rgb(226,104,110)"/>
<rect x="102.33" y="168.06" width="6.87" height="6.28" fill="rgb(214,148,150)"/>
<rect x="108.60" y="168.06" width="6.87" height="6.28" fill="rgb(226,104,110)"/>
<rect x="114.87" y="168.06" width="6.87" height="6.28" fill="rgb(236,62,68)"/>
<rect x="121.13" y="168.06" width="6.27" height="6.28" fill="rgb(214,148,150)"/>
<rect x="33.40" y="173.74" width="6.87" height="6.28" fill="rgb(44,64,248)"/>
<rect x="39.67" y="173.74" width="6.87" height="6.28" fill="rgb(44,64,248)"/>
<rect x="45.93" y="173.74" width="6.87" height="6.28" fill="rgb(44,64,248)"/>
<rect x="52.20" y="173.74" width="6.87" height="6.28" fill="rgb(192,192,195)"/>
<rect x="58.47" y="173.74" width="6.87" height="6.28" fill="rgb(214,148,150)"/>
<rect x="64.73" y="173.74" width="6.87" height="6.28" fill="rgb(140,152,222)"/>
<rect x="71.00" y="173.74" width="6.87" height="6.28" fill="rgb(203,178,178)"/>
<rect x="77.27" y="173.74" width="6.87" height="6.28" fill="rgb(166,172,210)"/>
<rect x="83.53" y="173.74" width="6.87" height="6.28" fill="rgb(192,192,195)"/>
<rect x="89.80" y="173.74" width="6.87" height="6.28" fill="rgb(250,20,22)"/>
<rect x="96.07" y="173.74" width="6.87" height="6.28" fill="rgb(226,104,110)"/>
<rect x="102.33" y="173.74" width="6.87" height="6.28" fill="rgb(226,104,110)"/>
<rect x="108.60" y="173.74" width="6.87" height="6.28" fill="rgb(226,104,110)"/>
<rect x="114.87" y="173.74" width="6.87" height="6.28" fill="rgb(226,104,110)"/>
<rect x="121.13" y="173.74" width="6.27" height="6.28" fill="rgb(236,62,68)"/>
<rect x="33.40" y="179.42" width="6.87" height="6.28" fill="rgb(226,104,110)"/>
<rect x="39.67" y="179.42" width="6.87" height="6.28" fill="rgb(236,62,68)"/>
<rect x="45.93" y="179.42" width="6.87" height="6.28" fill="rgb(214,148,150)"/>
<rect x="52.20" y="179.42" width="6.87" height="6.28" fill="rgb(214,148,150)"/>
<rect x="58.47" y="179.42" width="6.87" height="6.28" fill="rgb(236,62,68)"/>
<rect x="64.73" y="179.42" width="6.87" height="6.28" fill="rgb(226,104,110)"/>
<rect x="71.00" y="179.42" width="6.87" height="6.28" fill="rgb(140,152,222)"/>
<rect x="77.27" y="179.42" width="6.87" height="6.28" fill="rgb(192,192,195)"/>
<rect x="83.53" y="179.42" width="6.87" height="6.28" fill="rgb(203,178,178)"/>
<rect x="89.80" y="179.42" width="6.87" height="6.28" fill="rgb(44,64,248)"/>
<rect x="96.07" y="179.42" width="6.87" height="6.28" fill="rgb(110,126,232)"/>
<rect x="102.33" y="179.42" width="6.87" height="6.28" fill="rgb(110,126,232)"/>
<rect x="108.60" y="179.42" width="6.87" height="6.28" fill="rgb(110,126,232)"/>
<rect x="114.87" y="179.42" width="6.87" height="6.28" fill="rgb(110,126,232)"/>
<rect x="121.13" y="179.42" width="6.27" height="6.28" fill="rgb(76,96,242)"/>
<rect x="33.40" y="185.10" width="6.87" height="6.28" fill="rgb(236,62,68)"/>
<rect x="39.67" y="185.10" width="6.87" height="6.28" fill="rgb(226,104,110)"/>
<rect x="45.93" y="185.10" width="6.87" height="6.28" fill="rgb(110,126,232)"/>
<rect x="52.20" y="185.10" width="6.87" height="6.28" fill="rgb(226,104,110)"/>
<rect x="58.47" y="185.10" width="6.87" height="6.28" fill="rgb(236,62,68)"/>
<rect x="64.73" y="185.10" width="6.87" height="6.28" fill="rgb(236,62,68)"/>
<rect x="71.00" y="185.10" width="6.87" height="6.28" fill="rgb(214,148,150)"/>
<rect x="77.27" y="185.10" width="6.87" height="6.28" fill="rgb(192,192,195)"/>
<rect x="83.53" y="185.10" width="6.87" height="6.28" fill="rgb(192,192,195)"/>
<rect x="89.80" y="185.10" width="6.87" height="6.28" fill="rgb(166,172,210)"/>
<rect x="96.07" y="185.10" width="6.87" height="6.28" fill="rgb(44,64,248)"/>
<rect x="102.33" y="185.10" width="6.87" height="6.28" fill="rgb(44,64,248)"/>
<rect x="108.60" y="185.10" width="6.87" height="6.28" fill="rgb(44,64,248)"/>
<rect x="114.87" y="185.10" width="6.87" height="6.28" fill="rgb(44,64,248)"/>
<rect x="121.13" y="185.10" width="6.27" height="6.28" fill="rgb(44,64,248)"/>
<rect x="33.40" y="190.78" width="6.87" height="6.28" fill="rgb(236,62,68)"/>
<rect x="39.67" y="190.78" width="6.87" height="6.28" fill="rgb(236,62,68)"/>
<rect x="45.93" y="190.78" width="6.87" height="6.28" fill="rgb(250,20,22)"/>
<rect x="52.20" y="190.78" width="6.87" height="6.28" fill="rgb(192,192,195)"/>
<rect x="58.47" y="190.78" width="6.87" height="6.28" fill="rgb(236,62,68)"/>
<rect x="64.73" y="190.78" width="6.87" height="6.28" fill="rgb(166,172,210)"/>
<rect x="71.00" y="190.78" width="6.87" height="6.28" fill="rgb(203,178,178)"/>
<rect x="77.27" y="190.78" width="6.87" height="6.28" fill="rgb(110,126,232)"/>
<rect x="83.53" y="190.78" width="6.87" height="6.28" fill="rgb(214,148,150)"/>
<rect x="89.80" y="190.78" width="6.87" height="6.28" fill="rgb(214,148,150)"/>
<rect x="96.07" y="190.78" width="6.87" height="6.28" fill="rgb(110,126,232)"/>
<rect x="102.33" y="190.78" width="6.87" height="6.28" fill="rgb(140,152,222)"/>
<rect x="108.60" y="190.78" width="6.87" height="6.28" fill="rgb(166,172,210)"/>
<rect x="114.87" y="190.78" width="6.87" height="6.28" fill="rgb(140,152,222)"/>
<rect x="121.13" y="190.78" width="6.27" height="6.28" fill="rgb(203,178,178)"/>
<rect x="33.40" y="196.46" width="6.87" height="6.28" fill="rgb(250,20,22)"/>
<rect x="39.67" y="196.46" width="6.87" height="6.28" fill="rgb(226,104,110)"/>
<rect x="45.93" y="196.46" width="6.87" height="6.28" fill="rgb(203,178,178)"/>
<rect x="52.20" y="196.46" width="6.87" height="6.28" fill="rgb(236,62,68)"/>
<rect x="58.47" y="196.46" width="6.87" height="6.28" fill="rgb(226,104,110)"/>
<rect x="64.73" y="196.46" width="6.87" height="6.28" fill="rgb(192,192,195)"/>
<rect x="71.00" y="196.46" width="6.87" height="6.28" fill="rgb(214,148,150)"/>
<rect x="77.27" y="196.46" width="6.87" height="6.28" fill="rgb(203,178,178)"/>
<rect x="83.53" y="196.46" width="6.87" height="6.28" fill="rgb(203,178,178)"/>
<rect x="89.80" y="196.46" width="6.87" height="6.28" fill="rgb(140,152,222)"/>
<rect x="96.07" y="196.46" width="6.87" height="6.28" fill="rgb(140,152,222)"/>
<rect x="102.33" y="196.46" width="6.87" height="6.28" fill="rgb(76,96,242)"/>
<rect x="108.60" y="196.46" width="6.87" height="6.28" fill="rgb(140,152,222)"/>
<rect x="114.87" y="196.46" width="6.87" height="6.28" fill="rgb(140,152,222)"/>
<rect x="121.13" y="196.46" width="6.27" height="6.28" fill="rgb(166,172,210)"/>
<rect x="33.40" y="202.13" width="6.87" height="6.28" fill="rgb(236,62,68)"/>
<rect x="39.67" y="202.13" width="6.87" height="6.28" fill="rgb(214,148,150)"/>
<rect x="45.93" y="202.13" width="6.87" height="6.28" fill="rgb(226,104,110)"/>
<rect x="52.20" y="202.13" width="6.87" height="6.28" fill="rgb(226,104,110)"/>
<rect x="58.47" y="202.13" width="6.87" height="6.28" fill="rgb(214,148,150)"/>
<rect x="64.73" y="202.13" width="6.87" height="6.28" fill="rgb(140,152,222)"/>
<rect x="71.00" y="202.13" width="6.87" height="6.28" fill="rgb(140,152,222)"/>
<rect x="77.27" y="202.13" width="6.87" height="6.28" fill="rgb(140,152,222)"/>
<rect x="83.53" y="202.13" width="6.87" height="6.28" fill="rgb(166,172,210)"/>
<rect x="89.80" y="202.13" width="6.87" height="6.28" fill="rgb(192,192,195)"/>
<rect x="96.07" y="202.13" width="6.87" height="6.28" fill="rgb(110,126,232)"/>
<rect x="102.33" y="202.13" width="6.87" height="6.28" fill="rgb(140,152,222)"/>
<rect x="108.60" y="202.13" width="6.87" height="6.28" fill="rgb(76,96,242)"/>
<rect x="114.87" y="202.13" width="6.87" height="6.28" fill="rgb(140,152,222)"/>
<rect x="121.13" y="202.13" width="6.27" height="6.28" fill="rgb(166,172,210)"/>
<rect x="33.40" y="207.81" width="6.87" height="6.28" fill="rgb(236,62,68)"/>
<rect x="39.67" y="207.81" width="6.87" height="6.28" fill="rgb(44,64,248)"/>
<rect x="45.93" y="207.81" width="6.87" height="6.28" fill="rgb(226,104,110)"/>
<rect x="52.20" y="207.81" width="6.87" height="6.28" fill="rgb(236,62,68)"/>
<rect x="58.47" y="207.81" width="6.87" height="6.28" fill="rgb(226,104,110)"/>
<rect x="64.73" y="207.81" width="6.87" height="6.28" fill="rgb(226,104,110)"/>
<rect x="71.00" y="207.81" width="6.87" height="6.28" fill="rgb(203,178,178)"/>
<rect x="77.27" y="207.81" width="6.87" height="6.28" fill="rgb(203,178,178)"/>
<rect x="83.53" y="207.81" width="6.87" height="6.28" fill="rgb(110,126,232)"/>
<rect x="89.80" y="207.81" width="6.87" height="6.28" fill="rgb(44,64,248)"/>
<rect x="96.07" y="207.81" width="6.87" height="6.28" fill="rgb(110,126,232)"/>
<rect x="102.33" y="207.81" width="6.87" height="6.28" fill="rgb(166,172,210)"/>
<rect x="108.60" y="207.81" width="6.87" height="6.28" fill="rgb(236,62,68)"/>
<rect x="114.87" y="207.81" width="6.87" height="6.28" fill="rgb(192,192,195)"/>
<rect x="121.13" y="207.81" width="6.27" height="6.28" fill="rgb(236,62,68)"/>
<rect x="33.40" y="213.49" width="6.87" height="6.28" fill="rgb(236,62,68)"/>
<rect x="39.67" y="213.49" width="6.87" height="6.28" fill="rgb(236,62,68)"/>
<rect x="45.93" y="213.49" width="6.87" height="6.28" fill="rgb(140,152,222)"/>
<rect x="52.20" y="213.49" width="6.87" height="6.28" fill="rgb(226,104,110)"/>
<rect x="58.47" y="213.49" width="6.87" height="6.28" fill="rgb(236,62,68)"/>
<rect x="64.73" y="213.49" width="6.87" height="6.28" fill="rgb(226,104,110)"/>
<rect x="71.00" y="213.49" width="6.87" height="6.28" fill="rgb(166,172,210)"/>
<rect x="77.27" y="213.49" width="6.87" height="6.28" fill="rgb(226,104,110)"/>
<rect x="83.53" y="213.49" width="6.87" height="6.28" fill="rgb(214,148,150)"/>
<rect x="89.80" y="213.49" width="6.87" height="6.28" fill="rgb(110,126,232)"/>
<rect x="96.07" y="213.49" width="6.87" height="6.28" fill="rgb(192,192,195)"/>
<rect x="102.33" y="213.49" width="6.87" height="6.28" fill="rgb(203,178,178)"/>
<rect x="108.60" y="213.49" width="6.87" height="6.28" fill="rgb(214,148,150)"/>
<rect x="114.87" y="213.49" width="6.87" height="6.28" fill="rgb(214,148,150)"/>
<rect x="121.13" y="213.49" width="6.27" height="6.28" fill="rgb(214,148,150)"/>
<rect x="33.40" y="219.17" width="6.87" height="6.28" fill="rgb(250,20,22)"/>
<rect x="39.67" y="219.17" width="6.87" height="6.28" fill="rgb(236,62,68)"/>
<rect x="45.93" y="219.17" width="6.87" height="6.28" fill="rgb(203,178,178)"/>
<rect x="52.20" y="219.17" width="6.87" height="6.28" fill="rgb(250,20,22)"/>
<rect x="58.47" y="219.17" width="6.87" height="6.28" fill="rgb(203,178,178)"/>
<rect x="64.73" y="219.17" width="6.87" height="6.28" fill="rgb(203,178,178)"/>
<rect x="71.00" y="219.17" width="6.87" height="6.28" fill="rgb(203,178,178)"/>
<rect x="77.27" y="219.17" width="6.87" height="6.28" fill="rgb(214,148,150)"/>
<rect x="83.53" y="219.17" width="6.87" height="6.28" fill="rgb(192,192,195)"/>
<rect x="89.80" y="219.17" width="6.87" height="6.28" fill="rgb(76,96,242)"/>
<rect x="96.07" y="219.17" width="6.87" height="6.28" fill="rgb(166,172,210)"/>
<rect x="102.33" y="219.17" width="6.87" height="6.28" fill="rgb(110,126,232)"/>
<rect x="108.60" y="219.17" width="6.87" height="6.28" fill="rgb(192,192,195)"/>
<rect x="114.87" y="219.17" width="6.87" height="6.28" fill="rgb(140,152,222)"/>
<rect x="121.13" y="219.17" width="6.27" height="6.28" fill="rgb(140,152,222)"/>
<rect x="33.40" y="224.85" width="6.87" height="6.28" fill="rgb(236,62,68)"/>
<rect x="39.67" y="224.85" width="6.87" height="6.28" fill="rgb(236,62,68)"/>
<rect x="45.93" y="224.85" width="6.87" height="6.28" fill="rgb(214,148,150)"/>
<rect x="52.20" y="224.85" width="6.87" height="6.28" fill="rgb(226,104,110)"/>
<rect x="58.47" y="224.85" width="6.87" height="6.28" fill="rgb(236,62,68)"/>
<rect x="64.73" y="224.85" width="6.87" height="6.28" fill="rgb(214,148,150)"/>
<rect x="71.00" y="224.85" width="6.87" height="6.28" fill="rgb(192,192,195)"/>
<rect x="77.27" y="224.85" width="6.87" height="6.28" fill="rgb(203,178,178)"/>
<rect x="83.53" y="224.85" width="6.87" height="6.28" fill="rgb(110,126,232)"/>
<rect x="89.80" y="224.85" width="6.87" height="6.28" fill="rgb(140,152,222)"/>
<rect x="96.07" y="224.85" width="6.87" height="6.28" fill="rgb(110,126,232)"/>
<rect x="102.33" y="224.85" width="6.87" height="6.28" fill="rgb(140,152,222)"/>
<rect x="108.60" y="224.85" width="6.87" height="6.28" fill="rgb(214,148,150)"/>
<rect x="114.87" y="224.85" width="6.87" height="6.28" fill="rgb(110,126,232)"/>
<rect x="121.13" y="224.85" width="6.27" height="6.28" fill="rgb(166,172,210)"/>
<rect x="33.40" y="230.53" width="6.87" height="6.28" fill="rgb(236,62,68)"/>
<rect x="39.67" y="230.53" width="6.87" height="6.28" fill="rgb(236,62,68)"/>
<rect x="45.93" y="230.53" width="6.87" height="6.28" fill="rgb(192,192,195)"/>
<rect x="52.20" y="230.53" width="6.87" height="6.28" fill="rgb(236,62,68)"/>
<rect x="58.47" y="230.53" width="6.87" height="6.28" fill="rgb(214,148,150)"/>
<rect x="64.73" y="230.53" width="6.87" height="6.28" fill="rgb(192,192,195)"/>
<rect x="71.00" y="230.53" width="6.87" height="6.28" fill="rgb(192,192,195)"/>
<rect x="77.27" y="230.53" width="6.87" height="6.28" fill="rgb(203,178,178)"/>
<rect x="83.53" y="230.53" width="6.87" height="6.28" fill="rgb(110,126,232)"/>
<rect x="89.80" y="230.53" width="6.87" height="6.28" fill="rgb(44,64,248)"/>
<rect x="96.07" y="230.53" width="6.87" height="6.28" fill="rgb(166,172,210)"/>
<rect x="102.33" y="230.53" width="6.87" height="6.28" fill="rgb(203,178,178)"/>
<rect x="108.60" y="230.53" width="6.87" height="6.28" fill="rgb(140,152,222)"/>
<rect x="114.87" y="230.53" width="6.87" height="6.28" fill="rgb(192,192,195)"/>
<rect x="121.13" y="230.53" width="6.27" height="6.28" fill="rgb(192,192,195)"/>
<rect x="33.40" y="236.21" width="6.87" height="6.28" fill="rgb(250,20,22)"/>
<rect x="39.67" y="236.21" width="6.87" height="6.28" fill="rgb(236,62,68)"/>
<rect x="45.93" y="236.21" width="6.87" height="6.28" fill="rgb(236,62,68)"/>
<rect x="52.20" y="236.21" width="6.87" height="6.28" fill="rgb(214,148,150)"/>
<rect x="58.47" y="236.21" width="6.87" height="6.28" fill="rgb(236,62,68)"/>
<rect x="64.73" y="236.21" width="6.87" height="6.28" fill="rgb(236,62,68)"/>
<rect x="71.00" y="236.21" width="6.87" height="6.28" fill="rgb(226,104,110)"/>
<rect x="77.27" y="236.21" width="6.87" height="6.28" fill="rgb(250,20,22)"/>
<rect x="83.53" y="236.21" width="6.87" height="6.28" fill="rgb(192,192,195)"/>
<rect x="89.80" y="236.21" width="6.87" height="6.28" fill="rgb(140,152,222)"/>
<rect x="96.07" y="236.21" width="6.87" height="6.28" fill="rgb(76,96,242)"/>
<rect x="102.33" y="236.21" width="6.87" height="6.28" fill="rgb(44,64,248)"/>
<rect x="108.60" y="236.21" width="6.87" height="6.28" fill="rgb(110,126,232)"/>
<rect x="114.87" y="236.21" width="6.87" height="6.28" fill="rgb(110,126,232)"/>
<rect x="121.13" y="236.21" width="6.27" height="6.28" fill="rgb(140,152,222)"/>
<rect x="33.40" y="241.89" width="6.87" height="6.28" fill="rgb(236,62,68)"/>
<rect x="39.67" y="241.89" width="6.87" height="6.28" fill="rgb(226,104,110)"/>
<rect x="45.93" y="241.89" width="6.87" height="6.28" fill="rgb(236,62,68)"/>
<rect x="52.20" y="241.89" width="6.87" height="6.28" fill="rgb(250,20,22)"/>
<rect x="58.47" y="241.89" width="6.87" height="6.28" fill="rgb(226,104,110)"/>
<rect x="64.73" y="241.89" width="6.87" height="6.28" fill="rgb(214,148,150)"/>
<rect x="71.00" y="241.89" width="6.87" height="6.28" fill="rgb(250,20,22)"/>
<rect x="77.27" y="241.89" width="6.87" height="6.28" fill="rgb(214,148,150)"/>
<rect x="83.53" y="241.89" width="6.87" height="6.28" fill="rgb(166,172,210)"/>
<rect x="89.80" y="241.89" width="6.87" height="6.28" fill="rgb(110,126,232)"/>
<rect x="96.07" y="241.89" width="6.87" height="6.28" fill="rgb(140,152,222)"/>
<rect x="102.33" y="241.89" width="6.87" height="6.28" fill="rgb(110,126,232)"/>
<rect x="108.60" y="241.89" width="6.87" height="6.28" fill="rgb(203,178,178)"/>
<rect x="114.87" y="241.89" width="6.87" height="6.28" fill="rgb(140,152,222)"/>
<rect x="121.13" y="241.89" width="6.27" height="6.28" fill="rgb(110,126,232)"/>
<rect x="33.40" y="247.56" width="6.87" height="6.28" fill="rgb(236,62,68)"/>
<rect x="39.67" y="247.56" width="6.87" height="6.28" fill="rgb(236,62,68)"/>
<rect x="45.93" y="247.56" width="6.87" height="6.28" fill="rgb(236,62,68)"/>
<rect x="52.20" y="247.56" width="6.87" height="6.28" fill="rgb(214,148,150)"/>
<rect x="58.47" y="247.56" width="6.87" height="6.28" fill="rgb(250,20,22)"/>
<rect x="64.73" y="247.56" width="6.87" height="6.28" fill="rgb(250,20,22)"/>
<rect x="71.00" y="247.56" width="6.87" height="6.28" fill="rgb(214,148,150)"/>
<rect x="77.27" y="247.56" width="6.87" height="6.28" fill="rgb(192,192,195)"/>
<rect x="83.53" y="247.56" width="6.87" height="6.28" fill="rgb(166,172,210)"/>
<rect x="89.80" y="247.56" width="6.87" height="6.28" fill="rgb(76,96,242)"/>
<rect x="96.07" y="247.56" width="6.87" height="6.28" fill="rgb(76,96,242)"/>
<rect x="102.33" y="247.56" width="6.87" height="6.28" fill="rgb(140,152,222)"/>
<rect x="108.60" y="247.56" width="6.87" height="6.28" fill="rgb(166,172,210)"/>
<rect x="114.87" y="247.56" width="6.87" height="6.28" fill="rgb(140,152,222)"/>
<rect x="121.13" y="247.56" width="6.27" height="6.28" fill="rgb(140,152,222)"/>
<rect x="33.40" y="253.24" width="6.87" height="6.28" fill="rgb(236,62,68)"/>
<rect x="39.67" y="253.24" width="6.87" height="6.28" fill="rgb(250,20,22)"/>
<rect x="45.93" y="253.24" width="6.87" height="6.28" fill="rgb(250,20,22)"/>
<rect x="52.20" y="253.24" width="6.87" height="6.28" fill="rgb(226,104,110)"/>
<rect x="58.47" y="253.24" width="6.87" height="6.28" fill="rgb(250,20,22)"/>
<rect x="64.73" y="253.24" width="6.87" height="6.28" fill="rgb(236,62,68)"/>
<rect x="71.00" y="253.24" width="6.87" height="6.28" fill="rgb(214,148,150)"/>
<rect x="77.27" y="253.24" width="6.87" height="6.28" fill="rgb(214,148,150)"/>
<rect x="83.53" y="253.24" width="6.87" height="6.28" fill="rgb(226,104,110)"/>
<rect x="89.80" y="253.24" width="6.87" height="6.28" fill="rgb(214,148,150)"/>
<rect x="96.07" y="253.24" width="6.87" height="6.28" fill="rgb(110,126,232)"/>
<rect x="102.33" y="253.24" width="6.87" height="6.28" fill="rgb(140,152,222)"/>
<rect x="108.60" y="253.24" width="6.87" height="6.28" fill="rgb(166,172,210)"/>
<rect x="114.87" y="253.24" width="6.87" height="6.28" fill="rgb(110,126,232)"/>
<rect x="121.13" y="253.24" width="6.27" height="6.28" fill="rgb(140,152,222)"/>
<rect x="33.40" y="258.92" width="6.87" height="5.68" fill="rgb(250,20,22)"/>
<rect x="39.67" y="258.92" width="6.87" height="5.68" fill="rgb(236,62,68)"/>
<rect x="45.93" y="258.92" width="6.87" height="5.68" fill="rgb(226,104,110)"/>
<rect x="52.20" y="258.92" width="6.87" height="5.68" fill="rgb(214,148,150)"/>
<rect x="58.47" y="258.92" width="6.87" height="5.68" fill="rgb(250,20,22)"/>
<rect x="64.73" y="258.92" width="6.87" height="5.68" fill="rgb(250,20,22)"/>
<rect x="71.00" y="258.92" width="6.87" height="5.68" fill="rgb(203,178,178)"/>
<rect x="77.27" y="258.92" width="6.87" height="5.68" fill="rgb(192,192,195)"/>
<rect x="83.53" y="258.92" width="6.87" height="5.68" fill="rgb(250,20,22)"/>
<rect x="89.80" y="258.92" width="6.87" height="5.68" fill="rgb(226,104,110)"/>
<rect x="96.07" y="258.92" width="6.87" height="5.68" fill="rgb(44,64,248)"/>
<rect x="102.33" y="258.92" width="6.87" height="5.68" fill="rgb(110,126,232)"/>
<rect x="108.60" y="258.92" width="6.87" height="5.68" fill="rgb(110,126,232)"/>
<rect x="114.87" y="258.92" width="6.87" height="5.68" fill="rgb(140,152,222)"/>
<rect x="121.13" y="258.92" width="6.27" height="5.68" fill="rgb(214,148,150)"/>
<text x="32.6" y="14.40" font-size="7" text-anchor="end" fill="#d6485f" stroke="#d6485f" stroke-width="0.2">C-1</text>
<text x="32.6" y="20.08" font-size="7" text-anchor="end" fill="#d6485f" stroke="#d6485f" stroke-width="0.2">C-1</text>
<text x="32.6" y="25.76" font-size="7" text-anchor="end" fill="#d6485f" stroke="#d6485f" stroke-width="0.2">C+64</text>
<text x="32.6" y="31.44" font-size="7" text-anchor="end" fill="#d6485f" stroke="#d6485f" stroke-width="0.2">C-1</text>
<text x="32.6" y="37.11" font-size="7" text-anchor="end" fill="#d6485f" stroke="#d6485f" stroke-width="0.2">C+64</text>
<text x="32.6" y="42.79" font-size="7" text-anchor="end" fill="#d6485f" stroke="#d6485f" stroke-width="0.2">C+64</text>
<text x="32.6" y="48.47" font-size="7" text-anchor="end" fill="#d6485f" stroke="#d6485f" stroke-width="0.2">C+64</text>
<text x="32.6" y="54.15" font-size="7" text-anchor="end" fill="#d6485f" stroke="#d6485f" stroke-width="0.2">C+64</text>
<text x="32.6" y="59.83" font-size="7" text-anchor="end" fill="#d6485f" stroke="#d6485f" stroke-width="0.2">C+64</text>
<text x="32.6" y="65.51" font-size="7" text-anchor="end" fill="#d6485f" stroke="#d6485f" stroke-width="0.2">C-1</text>
<text x="32.6" y="71.19" font-size="7" text-anchor="end" fill="#d6485f" stroke="#d6485f" stroke-width="0.2">C+64</text>
<text x="32.6" y="76.86" font-size="7" text-anchor="end" fill="#d6485f" stroke="#d6485f" stroke-width="0.2">C-1</text>
<text x="32.6" y="82.54" font-size="7" text-anchor="end" fill="#d6485f" stroke="#d6485f" stroke-width="0.2">C+64</text>
<text x="32.6" y="88.22" font-size="7" text-anchor="end" fill="#d6485f" stroke="#d6485f" stroke-width="0.2">C-1</text>
<text x="32.6" y="93.90" font-size="7" text-anchor="end" fill="#d6485f" stroke="#d6485f" stroke-width="0.2">C+64</text>
<text x="32.6" y="99.58" font-size="7" text-anchor="end" fill="#d6485f" stroke="#d6485f" stroke-width="0.2">C-1</text>
<text x="32.6" y="105.26" font-size="7" text-anchor="end" fill="#d6485f" stroke="#d6485f" stroke-width="0.2">C+64</text>
<text x="32.6" y="110.94" font-size="7" text-anchor="end" fill="#d6485f" stroke="#d6485f" stroke-width="0.2">C-1</text>
<text x="32.6" y="116.62" font-size="7" text-anchor="end" fill="#d6485f" stroke="#d6485f" stroke-width="0.2">C-1</text>
<text x="32.6" y="122.29" font-size="7" text-anchor="end" fill="#d6485f" stroke="#d6485f" stroke-width="0.2">C+64</text>
<text x="32.6" y="127.97" font-size="7" text-anchor="end" fill="#d6485f" stroke="#d6485f" stroke-width="0.2">C+64</text>
<text x="32.6" y="133.65" font-size="7" text-anchor="end" fill="#d6485f" stroke="#d6485f" stroke-width="0.2">C-1</text>
<text x="32.6" y="139.33" font-size="7" text-anchor="end" fill="#d6485f" stroke="#d6485f" stroke-width="0.2">C-1</text>
<text x="32.6" y="145.01" font-size="7" text-anchor="end" fill="#d6485f" stroke="#d6485f" stroke-width="0.2">C-1</text>
<text x="32.6" y="150.69" font-size="7" text-anchor="end" fill="#d6485f" stroke="#d6485f" stroke-width="0.2">C+64</text>
<text x="32.6" y="156.37" font-size="7" text-anchor="end" fill="#d6485f" stroke="#d6485f" stroke-width="0.2">C-1</text>
<text x="32.6" y="162.04" font-size="7" text-anchor="end" fill="#d6485f" stroke="#d6485f" stroke-width="0.2">C+64</text>
<text x="32.6" y="167.72" font-size="7" text-anchor="end" fill="#d6485f" stroke="#d6485f" stroke-width="0.2">C-1</text>
<text x="32.6" y="173.40" font-size="7" text-anchor="end" fill="#d6485f" stroke="#d6485f" stroke-width="0.2">C-1</text>
<text x="32.6" y="179.08" font-size="7" text-anchor="end" fill="#d6485f" stroke="#d6485f" stroke-width="0.2">C+64</text>
<text x="32.6" y="184.76" font-size="7" text-anchor="end" fill="#4fb257" stroke="#4fb257" stroke-width="0.2">DT+1</text>
<text x="32.6" y="190.44" font-size="7" text-anchor="end" fill="#4fb257" stroke="#4fb257" stroke-width="0.2">DT+1</text>
<text x="32.6" y="196.12" font-size="7" text-anchor="end" fill="#4fb257" stroke="#4fb257" stroke-width="0.2">DT+1</text>
<text x="32.6" y="201.80" font-size="7" text-anchor="end" fill="#4fb257" stroke="#4fb257" stroke-width="0.2">DT+1</text>
<text x="32.6" y="207.47" font-size="7" text-anchor="end" fill="#4fb257" stroke="#4fb257" stroke-width="0.2">DT+1</text>
<text x="32.6" y="213.15" font-size="7" text-anchor="end" fill="#4fb257" stroke="#4fb257" stroke-width="0.2">DT+1</text>
<text x="32.6" y="218.83" font-size="7" text-anchor="end" fill="#4fb257" stroke="#4fb257" stroke-width="0.2">DT+1</text>
<text x="32.6" y="224.51" font-size="7" text-anchor="end" fill="#4fb257" stroke="#4fb257" stroke-width="0.2">DT+1</text>
<text x="32.6" y="230.19" font-size="7" text-anchor="end" fill="#4fb257" stroke="#4fb257" stroke-width="0.2">DT+1</text>
<text x="32.6" y="235.87" font-size="7" text-anchor="end" fill="#4fb257" stroke="#4fb257" stroke-width="0.2">DT+1</text>
<text x="32.6" y="241.55" font-size="7" text-anchor="end" fill="#4fb257" stroke="#4fb257" stroke-width="0.2">DT+1</text>
<text x="32.6" y="247.22" font-size="7" text-anchor="end" fill="#4fb257" stroke="#4fb257" stroke-width="0.2">DT+1</text>
<text x="32.6" y="252.90" font-size="7" text-anchor="end" fill="#4fb257" stroke="#4fb257" stroke-width="0.2">DT+1</text>
<text x="32.6" y="258.58" font-size="7" text-anchor="end" fill="#4fb257" stroke="#4fb257" stroke-width="0.2">DT+1</text>
<text x="32.6" y="264.26" font-size="7" text-anchor="end" fill="#4fb257" stroke="#4fb257" stroke-width="0.2">DT+1</text>
<text transform="translate(39.30,309.0) rotate(-90) scale(0.93,1)" font-size="7.8" fill="#111" stroke="#111" stroke-width="0.15">Parasiteamia</text>
<text transform="translate(46.60,309.0) rotate(-90) scale(0.93,1)" font-size="7.8" fill="#111" stroke="#111" stroke-width="0.15">IL10</text>
<text transform="translate(53.10,309.0) rotate(-90) scale(0.93,1)" font-size="7.8" fill="#111" stroke="#111" stroke-width="0.15">#LFT</text>
<text transform="translate(59.20,309.0) rotate(-90) scale(0.93,1)" font-size="7.8" fill="#111" stroke="#111" stroke-width="0.15">CDKN2A</text>
<text transform="translate(66.20,309.0) rotate(-90) scale(0.93,1)" font-size="7.8" fill="#111" stroke="#111" stroke-width="0.15">IFNg</text>
<text transform="translate(73.10,309.0) rotate(-90) scale(0.93,1)" font-size="7.8" fill="#111" stroke="#111" stroke-width="0.15">MCP1</text>
<text transform="translate(79.20,309.0) rotate(-90) scale(0.93,1)" font-size="7.8" fill="#111" stroke="#111" stroke-width="0.15">IL8</text>
<text transform="translate(86.00,309.0) rotate(-90) scale(0.93,1)" font-size="7.8" fill="#111" stroke="#111" stroke-width="0.15">IL18</text>
<text transform="translate(92.80,309.0) rotate(-90) scale(0.93,1)" font-size="7.8" fill="#111" stroke="#111" stroke-width="0.15">IL12p70</text>
<text transform="translate(97.60,309.0) rotate(-90) scale(0.93,1)" font-size="7.8" fill="#111" stroke="#111" stroke-width="0.15">TL</text>
<text transform="translate(105.00,309.0) rotate(-90) scale(0.93,1)" font-size="7.8" fill="#111" stroke="#111" stroke-width="0.15">NOS3</text>
<text transform="translate(110.40,309.0) rotate(-90) scale(0.93,1)" font-size="7.8" fill="#111" stroke="#111" stroke-width="0.15">CAT</text>
<text transform="translate(116.20,309.0) rotate(-90) scale(0.93,1)" font-size="7.8" fill="#111" stroke="#111" stroke-width="0.15">SOD1</text>
<text transform="translate(121.10,309.0) rotate(-90) scale(0.93,1)" font-size="7.8" fill="#111" stroke="#111" stroke-width="0.15">GSTK1</text>
<text transform="translate(127.80,309.0) rotate(-90) scale(0.93,1)" font-size="7.8" fill="#111" stroke="#111" stroke-width="0.15">SOD2</text>
<line x1="127.40" y1="11.90" x2="129.69" y2="11.90" stroke="#dc5a6e" stroke-width="0.9"/>
<line x1="127.40" y1="17.58" x2="129.69" y2="17.58" stroke="#dc5a6e" stroke-width="0.9"/>
<line x1="129.69" y1="11.90" x2="129.69" y2="17.58" stroke="#dc5a6e" stroke-width="0.9"/>
<line x1="129.69" y1="14.74" x2="131.21" y2="14.74" stroke="#dc5a6e" stroke-width="0.9"/>
<line x1="127.40" y1="23.26" x2="131.21" y2="23.26" stroke="#dc5a6e" stroke-width="0.9"/>
<line x1="131.21" y1="14.74" x2="131.21" y2="23.26" stroke="#dc5a6e" stroke-width="0.9"/>
<line x1="127.40" y1="28.94" x2="129.21" y2="28.94" stroke="#dc5a6e" stroke-width="0.9"/>
<line x1="127.40" y1="34.61" x2="129.21" y2="34.61" stroke="#dc5a6e" stroke-width="0.9"/>
<line x1="129.21" y1="28.94" x2="129.21" y2="34.61" stroke="#dc5a6e" stroke-width="0.9"/>
<line x1="129.21" y1="31.77" x2="130.81" y2="31.77" stroke="#dc5a6e" stroke-width="0.9"/>
<line x1="127.40" y1="40.29" x2="130.81" y2="40.29" stroke="#dc5a6e" stroke-width="0.9"/>
<line x1="130.81" y1="31.77" x2="130.81" y2="40.29" stroke="#dc5a6e" stroke-width="0.9"/>
<line x1="127.40" y1="45.97" x2="130.84" y2="45.97" stroke="#dc5a6e" stroke-width="0.9"/>
<line x1="127.40" y1="51.65" x2="130.84" y2="51.65" stroke="#dc5a6e" stroke-width="0.9"/>
<line x1="130.84" y1="45.97" x2="130.84" y2="51.65" stroke="#dc5a6e" stroke-width="0.9"/>
<line x1="130.81" y1="36.03" x2="131.67" y2="36.03" stroke="#dc5a6e" stroke-width="0.9"/>
<line x1="130.84" y1="48.81" x2="131.67" y2="48.81" stroke="#dc5a6e" stroke-width="0.9"/>
<line x1="131.67" y1="36.03" x2="131.67" y2="48.81" stroke="#dc5a6e" stroke-width="0.9"/>
<line x1="131.21" y1="19.00" x2="132.40" y2="19.00" stroke="#dc5a6e" stroke-width="0.9"/>
<line x1="131.67" y1="42.42" x2="132.40" y2="42.42" stroke="#dc5a6e" stroke-width="0.9"/>
<line x1="132.40" y1="19.00" x2="132.40" y2="42.42" stroke="#dc5a6e" stroke-width="0.9"/>
<line x1="127.40" y1="57.33" x2="129.24" y2="57.33" stroke="#dc5a6e" stroke-width="0.9"/>
<line x1="127.40" y1="63.01" x2="129.24" y2="63.01" stroke="#dc5a6e" stroke-width="0.9"/>
<line x1="129.24" y1="57.33" x2="129.24" y2="63.01" stroke="#dc5a6e" stroke-width="0.9"/>
<line x1="129.24" y1="60.17" x2="129.91" y2="60.17" stroke="#dc5a6e" stroke-width="0.9"/>
<line x1="127.40" y1="68.69" x2="129.91" y2="68.69" stroke="#dc5a6e" stroke-width="0.9"/>
<line x1="129.91" y1="60.17" x2="129.91" y2="68.69" stroke="#dc5a6e" stroke-width="0.9"/>
<line x1="127.40" y1="74.36" x2="129.35" y2="74.36" stroke="#dc5a6e" stroke-width="0.9"/>
<line x1="127.40" y1="80.04" x2="129.35" y2="80.04" stroke="#dc5a6e" stroke-width="0.9"/>
<line x1="129.35" y1="74.36" x2="129.35" y2="80.04" stroke="#dc5a6e" stroke-width="0.9"/>
<line x1="129.35" y1="77.20" x2="129.98" y2="77.20" stroke="#dc5a6e" stroke-width="0.9"/>
<line x1="127.40" y1="85.72" x2="129.98" y2="85.72" stroke="#dc5a6e" stroke-width="0.9"/>
<line x1="129.98" y1="77.20" x2="129.98" y2="85.72" stroke="#dc5a6e" stroke-width="0.9"/>
<line x1="129.91" y1="64.43" x2="131.25" y2="64.43" stroke="#dc5a6e" stroke-width="0.9"/>
<line x1="129.98" y1="81.46" x2="131.25" y2="81.46" stroke="#dc5a6e" stroke-width="0.9"/>
<line x1="131.25" y1="64.43" x2="131.25" y2="81.46" stroke="#dc5a6e" stroke-width="0.9"/>
<line x1="127.40" y1="91.40" x2="129.16" y2="91.40" stroke="#dc5a6e" stroke-width="0.9"/>
<line x1="127.40" y1="97.08" x2="129.16" y2="97.08" stroke="#dc5a6e" stroke-width="0.9"/>
<line x1="129.16" y1="91.40" x2="129.16" y2="97.08" stroke="#dc5a6e" stroke-width="0.9"/>
<line x1="127.40" y1="102.76" x2="128.95" y2="102.76" stroke="#dc5a6e" stroke-width="0.9"/>
<line x1="127.40" y1="108.44" x2="128.95" y2="108.44" stroke="#dc5a6e" stroke-width="0.9"/>
<line x1="128.95" y1="102.76" x2="128.95" y2="108.44" stroke="#dc5a6e" stroke-width="0.9"/>
<line x1="129.16" y1="94.24" x2="130.47" y2="94.24" stroke="#dc5a6e" stroke-width="0.9"/>
<line x1="128.95" y1="105.60" x2="130.47" y2="105.60" stroke="#dc5a6e" stroke-width="0.9"/>
<line x1="130.47" y1="94.24" x2="130.47" y2="105.60" stroke="#dc5a6e" stroke-width="0.9"/>
<line x1="131.25" y1="72.95" x2="132.00" y2="72.95" stroke="#dc5a6e" stroke-width="0.9"/>
<line x1="130.47" y1="99.92" x2="132.00" y2="99.92" stroke="#dc5a6e" stroke-width="0.9"/>
<line x1="132.00" y1="72.95" x2="132.00" y2="99.92" stroke="#dc5a6e" stroke-width="0.9"/>
<line x1="132.40" y1="30.71" x2="133.00" y2="30.71" stroke="#dc5a6e" stroke-width="0.9"/>
<line x1="132.00" y1="86.43" x2="133.00" y2="86.43" stroke="#dc5a6e" stroke-width="0.9"/>
<line x1="133.00" y1="30.71" x2="133.00" y2="86.43" stroke="#dc5a6e" stroke-width="0.9"/>
<line x1="127.40" y1="114.12" x2="128.72" y2="114.12" stroke="#dc5a6e" stroke-width="0.9"/>
<line x1="127.40" y1="119.79" x2="128.72" y2="119.79" stroke="#dc5a6e" stroke-width="0.9"/>
<line x1="128.72" y1="114.12" x2="128.72" y2="119.79" stroke="#dc5a6e" stroke-width="0.9"/>
<line x1="128.72" y1="116.95" x2="130.20" y2="116.95" stroke="#dc5a6e" stroke-width="0.9"/>
<line x1="127.40" y1="125.47" x2="130.20" y2="125.47" stroke="#dc5a6e" stroke-width="0.9"/>
<line x1="130.20" y1="116.95" x2="130.20" y2="125.47" stroke="#dc5a6e" stroke-width="0.9"/>
<line x1="127.40" y1="131.15" x2="128.23" y2="131.15" stroke="#dc5a6e" stroke-width="0.9"/>
<line x1="127.40" y1="136.83" x2="128.23" y2="136.83" stroke="#dc5a6e" stroke-width="0.9"/>
<line x1="128.23" y1="131.15" x2="128.23" y2="136.83" stroke="#dc5a6e" stroke-width="0.9"/>
<line x1="128.23" y1="133.99" x2="129.80" y2="133.99" stroke="#dc5a6e" stroke-width="0.9"/>
<line x1="127.40" y1="142.51" x2="129.80" y2="142.51" stroke="#dc5a6e" stroke-width="0.9"/>
<line x1="129.80" y1="133.99" x2="129.80" y2="142.51" stroke="#dc5a6e" stroke-width="0.9"/>
<line x1="130.20" y1="121.21" x2="131.00" y2="121.21" stroke="#dc5a6e" stroke-width="0.9"/>
<line x1="129.80" y1="138.25" x2="131.00" y2="138.25" stroke="#dc5a6e" stroke-width="0.9"/>
<line x1="131.00" y1="121.21" x2="131.00" y2="138.25" stroke="#dc5a6e" stroke-width="0.9"/>
<line x1="133.00" y1="58.57" x2="135.40" y2="58.57" stroke="#dc5a6e" stroke-width="0.9"/>
<line x1="131.00" y1="129.73" x2="135.40" y2="129.73" stroke="#dc5a6e" stroke-width="0.9"/>
<line x1="135.40" y1="58.57" x2="135.40" y2="129.73" stroke="#dc5a6e" stroke-width="0.9"/>
<line x1="127.40" y1="148.19" x2="129.60" y2="148.19" stroke="#dc5a6e" stroke-width="0.9"/>
<line x1="127.40" y1="153.87" x2="129.60" y2="153.87" stroke="#dc5a6e" stroke-width="0.9"/>
<line x1="129.60" y1="148.19" x2="129.60" y2="153.87" stroke="#dc5a6e" stroke-width="0.9"/>
<line x1="127.40" y1="170.90" x2="129.20" y2="170.90" stroke="#dc5a6e" stroke-width="0.9"/>
<line x1="127.40" y1="176.58" x2="129.20" y2="176.58" stroke="#dc5a6e" stroke-width="0.9"/>
<line x1="129.20" y1="170.90" x2="129.20" y2="176.58" stroke="#dc5a6e" stroke-width="0.9"/>
<line x1="127.40" y1="165.22" x2="130.00" y2="165.22" stroke="#dc5a6e" stroke-width="0.9"/>
<line x1="129.20" y1="173.74" x2="130.00" y2="173.74" stroke="#dc5a6e" stroke-width="0.9"/>
<line x1="130.00" y1="165.22" x2="130.00" y2="173.74" stroke="#dc5a6e" stroke-width="0.9"/>
<line x1="127.40" y1="159.54" x2="130.60" y2="159.54" stroke="#dc5a6e" stroke-width="0.9"/>
<line x1="130.00" y1="169.48" x2="130.60" y2="169.48" stroke="#dc5a6e" stroke-width="0.9"/>
<line x1="130.60" y1="159.54" x2="130.60" y2="169.48" stroke="#dc5a6e" stroke-width="0.9"/>
<line x1="129.60" y1="151.03" x2="131.70" y2="151.03" stroke="#dc5a6e" stroke-width="0.9"/>
<line x1="130.60" y1="164.51" x2="131.70" y2="164.51" stroke="#dc5a6e" stroke-width="0.9"/>
<line x1="131.70" y1="151.03" x2="131.70" y2="164.51" stroke="#dc5a6e" stroke-width="0.9"/>
<line x1="135.40" y1="94.15" x2="140.00" y2="94.15" stroke="#dc5a6e" stroke-width="0.9"/>
<line x1="131.70" y1="157.77" x2="140.00" y2="157.77" stroke="#dc5a6e" stroke-width="0.9"/>
<line x1="140.00" y1="94.15" x2="140.00" y2="157.77" stroke="#dc5a6e" stroke-width="0.9"/>
<line x1="127.40" y1="182.26" x2="130.50" y2="182.26" stroke="#5cb85c" stroke-width="0.9"/>
<line x1="127.40" y1="187.94" x2="130.50" y2="187.94" stroke="#5cb85c" stroke-width="0.9"/>
<line x1="130.50" y1="182.26" x2="130.50" y2="187.94" stroke="#5cb85c" stroke-width="0.9"/>
<line x1="127.40" y1="193.62" x2="131.00" y2="193.62" stroke="#5cb85c" stroke-width="0.9"/>
<line x1="127.40" y1="199.30" x2="131.00" y2="199.30" stroke="#5cb85c" stroke-width="0.9"/>
<line x1="131.00" y1="193.62" x2="131.00" y2="199.30" stroke="#5cb85c" stroke-width="0.9"/>
<line x1="130.50" y1="185.10" x2="133.00" y2="185.10" stroke="#5cb85c" stroke-width="0.9"/>
<line x1="131.00" y1="196.46" x2="133.00" y2="196.46" stroke="#5cb85c" stroke-width="0.9"/>
<line x1="133.00" y1="185.10" x2="133.00" y2="196.46" stroke="#5cb85c" stroke-width="0.9"/>
<line x1="127.40" y1="210.65" x2="129.80" y2="210.65" stroke="#5cb85c" stroke-width="0.9"/>
<line x1="127.40" y1="216.33" x2="129.80" y2="216.33" stroke="#5cb85c" stroke-width="0.9"/>
<line x1="129.80" y1="210.65" x2="129.80" y2="216.33" stroke="#5cb85c" stroke-width="0.9"/>
<line x1="127.40" y1="204.97" x2="131.50" y2="204.97" stroke="#5cb85c" stroke-width="0.9"/>
<line x1="129.80" y1="213.49" x2="131.50" y2="213.49" stroke="#5cb85c" stroke-width="0.9"/>
<line x1="131.50" y1="204.97" x2="131.50" y2="213.49" stroke="#5cb85c" stroke-width="0.9"/>
<line x1="127.40" y1="222.01" x2="130.20" y2="222.01" stroke="#5cb85c" stroke-width="0.9"/>
<line x1="127.40" y1="227.69" x2="130.20" y2="227.69" stroke="#5cb85c" stroke-width="0.9"/>
<line x1="130.20" y1="222.01" x2="130.20" y2="227.69" stroke="#5cb85c" stroke-width="0.9"/>
<line x1="127.40" y1="233.37" x2="129.90" y2="233.37" stroke="#5cb85c" stroke-width="0.9"/>
<line x1="127.40" y1="239.05" x2="129.90" y2="239.05" stroke="#5cb85c" stroke-width="0.9"/>
<line x1="129.90" y1="233.37" x2="129.90" y2="239.05" stroke="#5cb85c" stroke-width="0.9"/>
<line x1="130.20" y1="224.85" x2="132.20" y2="224.85" stroke="#5cb85c" stroke-width="0.9"/>
<line x1="129.90" y1="236.21" x2="132.20" y2="236.21" stroke="#5cb85c" stroke-width="0.9"/>
<line x1="132.20" y1="224.85" x2="132.20" y2="236.21" stroke="#5cb85c" stroke-width="0.9"/>
<line x1="131.50" y1="209.23" x2="134.00" y2="209.23" stroke="#5cb85c" stroke-width="0.9"/>
<line x1="132.20" y1="230.53" x2="134.00" y2="230.53" stroke="#5cb85c" stroke-width="0.9"/>
<line x1="134.00" y1="209.23" x2="134.00" y2="230.53" stroke="#5cb85c" stroke-width="0.9"/>
<line x1="133.00" y1="190.78" x2="135.50" y2="190.78" stroke="#5cb85c" stroke-width="0.9"/>
<line x1="134.00" y1="219.88" x2="135.50" y2="219.88" stroke="#5cb85c" stroke-width="0.9"/>
<line x1="135.50" y1="190.78" x2="135.50" y2="219.88" stroke="#5cb85c" stroke-width="0.9"/>
<line x1="127.40" y1="244.72" x2="129.40" y2="244.72" stroke="#5cb85c" stroke-width="0.9"/>
<line x1="127.40" y1="250.40" x2="129.40" y2="250.40" stroke="#5cb85c" stroke-width="0.9"/>
<line x1="129.40" y1="244.72" x2="129.40" y2="250.40" stroke="#5cb85c" stroke-width="0.9"/>
<line x1="127.40" y1="256.08" x2="129.60" y2="256.08" stroke="#5cb85c" stroke-width="0.9"/>
<line x1="127.40" y1="261.76" x2="129.60" y2="261.76" stroke="#5cb85c" stroke-width="0.9"/>
<line x1="129.60" y1="256.08" x2="129.60" y2="261.76" stroke="#5cb85c" stroke-width="0.9"/>
<line x1="129.40" y1="247.56" x2="131.00" y2="247.56" stroke="#5cb85c" stroke-width="0.9"/>
<line x1="129.60" y1="258.92" x2="131.00" y2="258.92" stroke="#5cb85c" stroke-width="0.9"/>
<line x1="131.00" y1="247.56" x2="131.00" y2="258.92" stroke="#5cb85c" stroke-width="0.9"/>
<line x1="135.50" y1="205.33" x2="136.80" y2="205.33" stroke="#5cb85c" stroke-width="0.9"/>
<line x1="131.00" y1="253.24" x2="136.80" y2="253.24" stroke="#5cb85c" stroke-width="0.9"/>
<line x1="136.80" y1="205.33" x2="136.80" y2="253.24" stroke="#5cb85c" stroke-width="0.9"/>
<line x1="140" y1="125.96" x2="144.2" y2="125.96" stroke="#dc6478" stroke-width="0.9"/>
<line x1="136.8" y1="229.29" x2="144.2" y2="229.29" stroke="#5cb85c" stroke-width="0.9"/>
<line x1="144.2" y1="125.96" x2="144.2" y2="229.29" stroke="#333" stroke-width="1"/>
<line x1="36.53" y1="264.60" x2="36.53" y2="265.80" stroke="#222" stroke-width="0.9"/>
<line x1="42.80" y1="264.60" x2="42.80" y2="265.80" stroke="#222" stroke-width="0.9"/>
<line x1="36.53" y1="265.80" x2="42.80" y2="265.80" stroke="#222" stroke-width="0.9"/>
<line x1="49.07" y1="264.60" x2="49.07" y2="266.20" stroke="#222" stroke-width="0.9"/>
<line x1="55.33" y1="264.60" x2="55.33" y2="266.20" stroke="#222" stroke-width="0.9"/>
<line x1="49.07" y1="266.20" x2="55.33" y2="266.20" stroke="#222" stroke-width="0.9"/>
<line x1="39.67" y1="265.80" x2="39.67" y2="267.20" stroke="#222" stroke-width="0.9"/>
<line x1="52.20" y1="266.20" x2="52.20" y2="267.20" stroke="#222" stroke-width="0.9"/>
<line x1="39.67" y1="267.20" x2="52.20" y2="267.20" stroke="#222" stroke-width="0.9"/>
<line x1="61.60" y1="264.60" x2="61.60" y2="266.60" stroke="#222" stroke-width="0.9"/>
<line x1="67.87" y1="264.60" x2="67.87" y2="266.60" stroke="#222" stroke-width="0.9"/>
<line x1="61.60" y1="266.60" x2="67.87" y2="266.60" stroke="#222" stroke-width="0.9"/>
<line x1="64.73" y1="266.60" x2="64.73" y2="267.60" stroke="#222" stroke-width="0.9"/>
<line x1="74.13" y1="264.60" x2="74.13" y2="267.60" stroke="#222" stroke-width="0.9"/>
<line x1="64.73" y1="267.60" x2="74.13" y2="267.60" stroke="#222" stroke-width="0.9"/>
<line x1="45.93" y1="267.20" x2="45.93" y2="268.20" stroke="#222" stroke-width="0.9"/>
<line x1="69.43" y1="267.60" x2="69.43" y2="268.20" stroke="#222" stroke-width="0.9"/>
<line x1="45.93" y1="268.20" x2="69.43" y2="268.20" stroke="#222" stroke-width="0.9"/>
<line x1="57.68" y1="268.20" x2="57.68" y2="268.40" stroke="#222" stroke-width="0.9"/>
<line x1="80.40" y1="264.60" x2="80.40" y2="268.40" stroke="#222" stroke-width="0.9"/>
<line x1="57.68" y1="268.40" x2="80.40" y2="268.40" stroke="#222" stroke-width="0.9"/>
<line x1="81.30" y1="268.40" x2="81.30" y2="268.60" stroke="#222" stroke-width="0.9"/>
<line x1="86.67" y1="264.60" x2="86.67" y2="268.60" stroke="#222" stroke-width="0.9"/>
<line x1="81.30" y1="268.60" x2="86.67" y2="268.60" stroke="#222" stroke-width="0.9"/>
<line x1="69.04" y1="268.40" x2="81.30" y2="268.40" stroke="#222" stroke-width="0.9"/>
<line x1="99.20" y1="264.60" x2="99.20" y2="266.00" stroke="#222" stroke-width="0.9"/>
<line x1="105.47" y1="264.60" x2="105.47" y2="266.00" stroke="#222" stroke-width="0.9"/>
<line x1="99.20" y1="266.00" x2="105.47" y2="266.00" stroke="#222" stroke-width="0.9"/>
<line x1="111.73" y1="264.60" x2="111.73" y2="266.20" stroke="#222" stroke-width="0.9"/>
<line x1="118.00" y1="264.60" x2="118.00" y2="266.20" stroke="#222" stroke-width="0.9"/>
<line x1="111.73" y1="266.20" x2="118.00" y2="266.20" stroke="#222" stroke-width="0.9"/>
<line x1="102.33" y1="266.00" x2="102.33" y2="267.40" stroke="#222" stroke-width="0.9"/>
<line x1="114.87" y1="266.20" x2="114.87" y2="267.40" stroke="#222" stroke-width="0.9"/>
<line x1="102.33" y1="267.40" x2="114.87" y2="267.40" stroke="#222" stroke-width="0.9"/>
<line x1="108.60" y1="267.40" x2="108.60" y2="268.50" stroke="#222" stroke-width="0.9"/>
<line x1="124.27" y1="264.60" x2="124.27" y2="268.50" stroke="#222" stroke-width="0.9"/>
<line x1="108.60" y1="268.50" x2="124.27" y2="268.50" stroke="#222" stroke-width="0.9"/>
<line x1="92.93" y1="264.60" x2="92.93" y2="269.30" stroke="#222" stroke-width="0.9"/>
<line x1="116.43" y1="268.50" x2="116.43" y2="269.30" stroke="#222" stroke-width="0.9"/>
<line x1="92.93" y1="269.30" x2="116.43" y2="269.30" stroke="#222" stroke-width="0.9"/>
<line x1="83.98" y1="268.60" x2="83.98" y2="276.20" stroke="#222" stroke-width="0.9"/>
<line x1="104.68" y1="269.30" x2="104.68" y2="276.20" stroke="#222" stroke-width="0.9"/>
<line x1="83.98" y1="276.20" x2="104.68" y2="276.20" stroke="#222" stroke-width="0.9"/>
<rect x="143.3" y="21.00" width="7" height="7.30" fill="rgb(255,0,0)"/>
<rect x="143.3" y="28.00" width="7" height="3.30" fill="rgb(242,60,70)"/>
<rect x="143.3" y="31.00" width="7" height="3.80" fill="rgb(236,102,112)"/>
<rect x="143.3" y="34.50" width="7" height="3.80" fill="rgb(225,142,147)"/>
<rect x="143.3" y="38.00" width="7" height="2.50" fill="rgb(212,172,175)"/>
<rect x="143.3" y="40.20" width="7" height="4.10" fill="rgb(200,200,201)"/>
<rect x="143.3" y="44.00" width="7" height="3.80" fill="rgb(176,176,212)"/>
<rect x="143.3" y="47.50" width="7" height="3.80" fill="rgb(152,154,206)"/>
<rect x="143.3" y="51.00" width="7" height="4.30" fill="rgb(126,130,198)"/>
<rect x="143.3" y="55.00" width="7" height="3.90" fill="rgb(100,106,190)"/>
<rect x="143.3" y="58.60" width="7" height="4.10" fill="rgb(70,78,178)"/>
<text x="146.8" y="19" font-size="6" text-anchor="middle" fill="#222">High</text>
<text x="146.8" y="68.5" font-size="6" text-anchor="middle" fill="#222">Low</text>
<text x="0.1" y="10.7" font-size="13" font-weight="bold" fill="#000">A</text>
<text x="169.5" y="10.9" font-size="13" font-weight="bold" fill="#000">B</text>
<line x1="196.5" y1="142.2" x2="417" y2="142.2" stroke="#e8334f" stroke-width="1.6" stroke-dasharray="2.8,2.8"/>
<line x1="311.1" y1="28.2" x2="311.1" y2="246.5" stroke="#e8334f" stroke-width="1.6" stroke-dasharray="2.6,3.2"/>
<line x1="198.6" y1="27.1" x2="198.6" y2="247.6" stroke="#9a9a9a" stroke-width="1.2"/>
<line x1="198.0" y1="247.0" x2="417.7" y2="247.0" stroke="#9a9a9a" stroke-width="1.2"/>
<line x1="196.6" y1="245.96" x2="198.6" y2="245.96" stroke="#9a9a9a" stroke-width="0.8"/>
<text x="196.0" y="248.96" font-size="8.5" text-anchor="end" fill="#111">-8</text>
<line x1="200.20" y1="247.0" x2="200.20" y2="249.4" stroke="#9a9a9a" stroke-width="0.8"/>
<text x="200.50" y="258.0" font-size="8.5" text-anchor="middle" fill="#111">-8</text>
<line x1="196.6" y1="220.22" x2="198.6" y2="220.22" stroke="#9a9a9a" stroke-width="0.8"/>
<text x="196.0" y="223.22" font-size="8.5" text-anchor="end" fill="#111">-6</text>
<line x1="225.50" y1="247.0" x2="225.50" y2="249.4" stroke="#9a9a9a" stroke-width="0.8"/>
<text x="225.80" y="258.0" font-size="8.5" text-anchor="middle" fill="#111">-6</text>
<line x1="196.6" y1="194.48" x2="198.6" y2="194.48" stroke="#9a9a9a" stroke-width="0.8"/>
<text x="196.0" y="197.48" font-size="8.5" text-anchor="end" fill="#111">-4</text>
<line x1="250.80" y1="247.0" x2="250.80" y2="249.4" stroke="#9a9a9a" stroke-width="0.8"/>
<text x="251.10" y="258.0" font-size="8.5" text-anchor="middle" fill="#111">-4</text>
<line x1="196.6" y1="168.74" x2="198.6" y2="168.74" stroke="#9a9a9a" stroke-width="0.8"/>
<text x="196.0" y="171.74" font-size="8.5" text-anchor="end" fill="#111">-2</text>
<line x1="276.10" y1="247.0" x2="276.10" y2="249.4" stroke="#9a9a9a" stroke-width="0.8"/>
<text x="276.40" y="258.0" font-size="8.5" text-anchor="middle" fill="#111">-2</text>
<text x="196.0" y="145.20" font-size="8.5" text-anchor="end" fill="#111">0</text>
<line x1="301.40" y1="247.0" x2="301.40" y2="249.4" stroke="#e8334f" stroke-width="0.8"/>
<text x="301.40" y="258.0" font-size="8.5" text-anchor="middle" fill="#111">0</text>
<line x1="196.6" y1="117.26" x2="198.6" y2="117.26" stroke="#9a9a9a" stroke-width="0.8"/>
<text x="196.0" y="120.26" font-size="8.5" text-anchor="end" fill="#111">2</text>
<line x1="326.70" y1="247.0" x2="326.70" y2="249.4" stroke="#9a9a9a" stroke-width="0.8"/>
<text x="326.70" y="258.0" font-size="8.5" text-anchor="middle" fill="#111">2</text>
<line x1="196.6" y1="91.52" x2="198.6" y2="91.52" stroke="#9a9a9a" stroke-width="0.8"/>
<text x="196.0" y="94.52" font-size="8.5" text-anchor="end" fill="#111">4</text>
<line x1="352.00" y1="247.0" x2="352.00" y2="249.4" stroke="#9a9a9a" stroke-width="0.8"/>
<text x="352.00" y="258.0" font-size="8.5" text-anchor="middle" fill="#111">4</text>
<line x1="196.6" y1="65.78" x2="198.6" y2="65.78" stroke="#9a9a9a" stroke-width="0.8"/>
<text x="196.0" y="68.78" font-size="8.5" text-anchor="end" fill="#111">6</text>
<line x1="377.30" y1="247.0" x2="377.30" y2="249.4" stroke="#9a9a9a" stroke-width="0.8"/>
<text x="377.30" y="258.0" font-size="8.5" text-anchor="middle" fill="#111">6</text>
<line x1="196.6" y1="40.04" x2="198.6" y2="40.04" stroke="#9a9a9a" stroke-width="0.8"/>
<text x="196.0" y="43.04" font-size="8.5" text-anchor="end" fill="#111">8</text>
<line x1="402.60" y1="247.0" x2="402.60" y2="249.4" stroke="#9a9a9a" stroke-width="0.8"/>
<text x="402.60" y="258.0" font-size="8.5" text-anchor="middle" fill="#111">8</text>
<text x="306.6" y="280.4" font-size="11.5" text-anchor="middle" fill="#111">Component 1 (54 %)</text>
<text transform="translate(182.6,136.2) rotate(-90)" font-size="11.5" text-anchor="middle" fill="#111">Component 2 (15,4 %)</text>
<circle cx="205.7" cy="38.8" r="2.0" fill="none" stroke="#d4465e" stroke-width="1.6"/>
<path d="M205.5 46.8 l2.3 2.4 l-2.3 2.4 l-2.3 -2.4z" fill="#3fae49"/>
<circle cx="206.0" cy="58.8" r="1.8" fill="#d4465e"/>
<text x="211.6" y="42.0" font-size="8.4" fill="#111">C-1</text>
<text x="211.6" y="52.3" font-size="8.4" fill="#111">DT+1</text>
<text x="211.6" y="62.1" font-size="8.4" fill="#111">C+64</text>
<path d="M333.90 105.20 l2.2 2.4 l-2.2 2.4 l-2.2 -2.4z" fill="#3fae49"/>
<path d="M333.90 110.20 l2.2 2.4 l-2.2 2.4 l-2.2 -2.4z" fill="#3fae49"/>
<path d="M333.90 125.50 l2.2 2.4 l-2.2 2.4 l-2.2 -2.4z" fill="#3fae49"/>
<path d="M376.10 121.60 l2.2 2.4 l-2.2 2.4 l-2.2 -2.4z" fill="#3fae49"/>
<path d="M386.80 132.30 l2.2 2.4 l-2.2 2.4 l-2.2 -2.4z" fill="#3fae49"/>
<path d="M388.80 139.10 l2.2 2.4 l-2.2 2.4 l-2.2 -2.4z" fill="#3fae49"/>
<path d="M371.90 140.00 l2.2 2.4 l-2.2 2.4 l-2.2 -2.4z" fill="#3fae49"/>
<path d="M345.70 142.40 l2.2 2.4 l-2.2 2.4 l-2.2 -2.4z" fill="#3fae49"/>
<path d="M354.40 142.40 l2.2 2.4 l-2.2 2.4 l-2.2 -2.4z" fill="#3fae49"/>
<path d="M340.50 151.70 l2.2 2.4 l-2.2 2.4 l-2.2 -2.4z" fill="#3fae49"/>
<path d="M356.40 155.90 l2.2 2.4 l-2.2 2.4 l-2.2 -2.4z" fill="#3fae49"/>
<path d="M368.00 172.00 l2.2 2.4 l-2.2 2.4 l-2.2 -2.4z" fill="#3fae49"/>
<path d="M371.30 130.30 l2.2 2.4 l-2.2 2.4 l-2.2 -2.4z" fill="#3fae49"/>
<path d="M351.50 130.80 l2.2 2.4 l-2.2 2.4 l-2.2 -2.4z" fill="#3fae49"/>
<circle cx="271.60" cy="106.00" r="1.75" fill="none" stroke="#d4465e" stroke-width="1.55"/>
<circle cx="282.40" cy="112.00" r="1.75" fill="none" stroke="#d4465e" stroke-width="1.55"/>
<circle cx="269.50" cy="117.30" r="1.75" fill="none" stroke="#d4465e" stroke-width="1.55"/>
<circle cx="279.20" cy="127.30" r="1.75" fill="none" stroke="#d4465e" stroke-width="1.55"/>
<circle cx="282.70" cy="134.50" r="1.75" fill="none" stroke="#d4465e" stroke-width="1.55"/>
<circle cx="278.80" cy="142.70" r="1.75" fill="none" stroke="#d4465e" stroke-width="1.55"/>
<circle cx="284.00" cy="143.70" r="1.75" fill="none" stroke="#d4465e" stroke-width="1.55"/>
<circle cx="283.60" cy="153.80" r="1.75" fill="none" stroke="#d4465e" stroke-width="1.55"/>
<circle cx="283.00" cy="163.00" r="1.75" fill="none" stroke="#d4465e" stroke-width="1.55"/>
<circle cx="288.80" cy="160.70" r="1.75" fill="none" stroke="#d4465e" stroke-width="1.55"/>
<circle cx="293.70" cy="162.70" r="1.75" fill="none" stroke="#d4465e" stroke-width="1.55"/>
<circle cx="285.60" cy="169.40" r="1.75" fill="none" stroke="#d4465e" stroke-width="1.55"/>
<circle cx="305.70" cy="171.40" r="1.75" fill="none" stroke="#d4465e" stroke-width="1.55"/>
<circle cx="279.80" cy="126.50" r="1.75" fill="none" stroke="#d4465e" stroke-width="1.55"/>
<circle cx="276.80" cy="107.60" r="1.6" fill="#d4465e"/>
<circle cx="277.60" cy="113.20" r="1.6" fill="#d4465e"/>
<circle cx="284.50" cy="125.30" r="1.6" fill="#d4465e"/>
<circle cx="293.20" cy="129.70" r="1.6" fill="#d4465e"/>
<circle cx="287.90" cy="152.00" r="1.6" fill="#d4465e"/>
<circle cx="294.00" cy="153.80" r="1.6" fill="#d4465e"/>
<circle cx="298.00" cy="150.10" r="1.6" fill="#d4465e"/>
<circle cx="304.30" cy="159.20" r="1.6" fill="#d4465e"/>
<circle cx="293.70" cy="169.40" r="1.6" fill="#d4465e"/>
<circle cx="299.50" cy="170.80" r="1.6" fill="#d4465e"/>
<circle cx="298.00" cy="164.40" r="1.6" fill="#d4465e"/>
<circle cx="283.00" cy="152.50" r="1.6" fill="#d4465e"/>
<circle cx="283.50" cy="155.00" r="1.6" fill="#d4465e"/>
<line x1="310.90" y1="142.30" x2="282.30" y2="73.00" stroke="#ec2f48" stroke-width="1.7"/>
<line x1="310.90" y1="142.30" x2="264.50" y2="94.80" stroke="#ec2f48" stroke-width="1.7"/>
<line x1="310.90" y1="142.30" x2="252.30" y2="96.60" stroke="#ec2f48" stroke-width="1.7"/>
<line x1="310.90" y1="142.30" x2="243.60" y2="116.30" stroke="#ec2f48" stroke-width="1.7"/>
<line x1="310.90" y1="142.30" x2="241.40" y2="126.60" stroke="#ec2f48" stroke-width="1.7"/>
<line x1="310.90" y1="142.30" x2="287.50" y2="179.50" stroke="#ec2f48" stroke-width="1.7"/>
<line x1="310.90" y1="142.30" x2="365.90" y2="108.80" stroke="#ec2f48" stroke-width="1.7"/>
<line x1="310.90" y1="142.30" x2="361.60" y2="124.00" stroke="#ec2f48" stroke-width="1.7"/>
<line x1="310.90" y1="142.30" x2="373.00" y2="121.10" stroke="#ec2f48" stroke-width="1.7"/>
<line x1="310.90" y1="142.30" x2="370.30" y2="127.40" stroke="#ec2f48" stroke-width="1.7"/>
<line x1="310.90" y1="142.30" x2="378.10" y2="127.90" stroke="#ec2f48" stroke-width="1.7"/>
<line x1="310.90" y1="142.30" x2="384.80" y2="128.40" stroke="#ec2f48" stroke-width="1.7"/>
<line x1="310.90" y1="142.30" x2="383.40" y2="129.80" stroke="#ec2f48" stroke-width="1.7"/>
<line x1="310.90" y1="142.30" x2="383.40" y2="132.50" stroke="#ec2f48" stroke-width="1.7"/>
<line x1="310.90" y1="142.30" x2="346.70" y2="139.50" stroke="#ec2f48" stroke-width="1.7"/>
<circle cx="282.30" cy="73.00" r="1.4" fill="#2a1214" stroke="#ec2f48" stroke-width="0.5"/>
<circle cx="264.50" cy="94.80" r="1.4" fill="#2a1214" stroke="#ec2f48" stroke-width="0.5"/>
<circle cx="252.30" cy="96.60" r="1.4" fill="#2a1214" stroke="#ec2f48" stroke-width="0.5"/>
<circle cx="243.60" cy="116.30" r="1.4" fill="#2a1214" stroke="#ec2f48" stroke-width="0.5"/>
<circle cx="241.40" cy="126.60" r="1.4" fill="#2a1214" stroke="#ec2f48" stroke-width="0.5"/>
<circle cx="287.50" cy="179.50" r="1.4" fill="#2a1214" stroke="#ec2f48" stroke-width="0.5"/>
<circle cx="365.90" cy="108.80" r="1.4" fill="#2a1214" stroke="#ec2f48" stroke-width="0.5"/>
<circle cx="361.60" cy="124.00" r="1.4" fill="#2a1214" stroke="#ec2f48" stroke-width="0.5"/>
<circle cx="373.00" cy="121.10" r="1.4" fill="#2a1214" stroke="#ec2f48" stroke-width="0.5"/>
<circle cx="370.30" cy="127.40" r="1.4" fill="#2a1214" stroke="#ec2f48" stroke-width="0.5"/>
<circle cx="378.10" cy="127.90" r="1.4" fill="#2a1214" stroke="#ec2f48" stroke-width="0.5"/>
<circle cx="384.80" cy="128.40" r="1.4" fill="#2a1214" stroke="#ec2f48" stroke-width="0.5"/>
<circle cx="383.40" cy="129.80" r="1.4" fill="#2a1214" stroke="#ec2f48" stroke-width="0.5"/>
<circle cx="383.40" cy="132.50" r="1.4" fill="#2a1214" stroke="#ec2f48" stroke-width="0.5"/>
<circle cx="346.70" cy="139.50" r="1.4" fill="#2a1214" stroke="#ec2f48" stroke-width="0.5"/>
<text x="285.80" y="68.30" font-size="7.1" text-anchor="middle" fill="#111" stroke="#111" stroke-width="0.15">SOD1</text>
<text x="256.70" y="88.00" font-size="7.1" text-anchor="middle" fill="#111" stroke="#111" stroke-width="0.15">SOD2</text>
<text x="249.40" y="101.70" font-size="7.1" text-anchor="end" fill="#111" stroke="#111" stroke-width="0.15">GSTK1</text>
<text x="240.00" y="116.20" font-size="7.1" text-anchor="end" fill="#111" stroke="#111" stroke-width="0.15">CAT</text>
<text x="240.70" y="135.30" font-size="7.1" text-anchor="end" fill="#111" stroke="#111" stroke-width="0.15">NOS3</text>
<text x="291.20" y="189.30" font-size="7.1" text-anchor="middle" fill="#111" stroke="#111" stroke-width="0.15">TL</text>
<text transform="translate(369.00,110.50) rotate(-26.0)" font-size="7.1" text-anchor="start" fill="#111" stroke="#111" stroke-width="0.15">CDKN2A</text>
<text transform="translate(360.50,123.50) rotate(-29.0)" font-size="7.1" text-anchor="start" fill="#111" stroke="#111" stroke-width="0.15">MCP1</text>
<text transform="translate(374.50,120.50) rotate(-22.0)" font-size="7.1" text-anchor="start" fill="#111" stroke="#111" stroke-width="0.15">IL18</text>
<text transform="translate(378.50,125.20) rotate(-20.0)" font-size="7.1" text-anchor="start" fill="#111" stroke="#111" stroke-width="0.15">IL8</text>
<text transform="translate(389.00,125.00) rotate(-14.0)" font-size="7.1" text-anchor="start" fill="#111" stroke="#111" stroke-width="0.15">IFNg</text>
<text transform="translate(405.50,122.80) rotate(-17.0)" font-size="7.1" text-anchor="start" fill="#111" stroke="#111" stroke-width="0.15">#LFT</text>
<text transform="translate(388.00,133.00) rotate(-13.7)" font-size="7.1" text-anchor="start" fill="#111" stroke="#111" stroke-width="0.15">Parasiteamia</text>
<text x="390.70" y="137.00" font-size="7.1" text-anchor="start" fill="#111" stroke="#111" stroke-width="0.15">IL10</text>
<text x="358.90" y="149.00" font-size="7.1" text-anchor="start" fill="#111" stroke="#111" stroke-width="0.15">IL12p70</text>
<text x="422.0" y="11.7" font-size="13" font-weight="bold" fill="#000">C</text>
<rect x="447.1" y="32.6" width="237.9" height="224.2" fill="#cccccc"/>
<polygon points="475.6,81 535.5,75.8 535.5,187.3 477,217" fill="#fff"/>
<polygon points="535.5,75.8 647.3,80 643.2,198.1 535.5,187.3" fill="#fff"/>
<polygon points="477,217 535.5,187.3 643.2,198.1 606.5,235.6" fill="#fff"/>
<line x1="535.5" y1="75.8" x2="535.5" y2="187.3" stroke="#d8d8d8" stroke-width="0.7"/>
<line x1="477" y1="217" x2="535.5" y2="187.3" stroke="#d8d8d8" stroke-width="0.7"/>
<line x1="535.5" y1="187.3" x2="643.2" y2="198.1" stroke="#d8d8d8" stroke-width="0.7"/>
<defs>
<radialGradient id="gg" cx="0.42" cy="0.45" r="0.6">
<stop offset="0" stop-color="#c0e2c4"/><stop offset="0.45" stop-color="#abcbb0"/><stop offset="1" stop-color="#94b49a"/></radialGradient>
<radialGradient id="gi" cx="0.35" cy="0.6" r="0.7">
<stop offset="0" stop-color="#e4f0e4"/><stop offset="1" stop-color="#cfe1d0"/></radialGradient>
<radialGradient id="glow"><stop offset="0" stop-color="#c8ecce" stop-opacity="0.9"/><stop offset="1" stop-color="#c8ecce" stop-opacity="0"/></radialGradient>
<linearGradient id="rg" x1="0" y1="0" x2="0" y2="1">
<stop offset="0" stop-color="#c9a2a8"/><stop offset="0.3" stop-color="#d8b8bc"/><stop offset="0.6" stop-color="#dbbdc0"/><stop offset="1" stop-color="#c0959c"/></linearGradient>
</defs>
<ellipse cx="575.9" cy="117" rx="39" ry="21" fill="url(#gg)"/>
<ellipse cx="563" cy="118" rx="16" ry="9" fill="url(#glow)"/>
<ellipse cx="594.3" cy="114.6" rx="19.8" ry="12.1" fill="url(#gi)"/>
<ellipse cx="582.7" cy="182.3" rx="37" ry="16.8" fill="url(#rg)" transform="rotate(-3 582.7 182.3)"/>
<path d="M547.70 92.90 h4.4 M549.90 90.70 v4.4" stroke="#62c262" stroke-width="0.7"/>
<path d="M582.00 89.50 h4.4 M584.20 87.30 v4.4" stroke="#62c262" stroke-width="0.7"/>
<path d="M565.00 97.40 h4.4 M567.20 95.20 v4.4" stroke="#62c262" stroke-width="0.7"/>
<path d="M571.10 103.30 h4.4 M573.30 101.10 v4.4" stroke="#62c262" stroke-width="0.7"/>
<path d="M545.90 112.70 h4.4 M548.10 110.50 v4.4" stroke="#62c262" stroke-width="0.7"/>
<path d="M576.30 116.10 h4.4 M578.50 113.90 v4.4" stroke="#62c262" stroke-width="0.7"/>
<path d="M570.20 119.50 h4.4 M572.40 117.30 v4.4" stroke="#62c262" stroke-width="0.7"/>
<path d="M593.90 120.60 h4.4 M596.10 118.40 v4.4" stroke="#62c262" stroke-width="0.7"/>
<path d="M607.30 116.80 h4.4 M609.50 114.60 v4.4" stroke="#62c262" stroke-width="0.7"/>
<path d="M633.20 109.30 h4.4 M635.40 107.10 v4.4" stroke="#62c262" stroke-width="0.7"/>
<path d="M562.10 130.80 h4.4 M564.30 128.60 v4.4" stroke="#62c262" stroke-width="0.7"/>
<path d="M574.50 133.50 h4.4 M576.70 131.30 v4.4" stroke="#62c262" stroke-width="0.7"/>
<path d="M541.80 131.90 h4.4 M544.00 129.70 v4.4" stroke="#62c262" stroke-width="0.7"/>
<path d="M543.10 138.70 h4.4 M545.30 136.50 v4.4" stroke="#62c262" stroke-width="0.7"/>
<path d="M601.20 133.00 h4.4 M603.40 130.80 v4.4" stroke="#62c262" stroke-width="0.7"/>
<circle cx="513.60" cy="190.10" r="2.5" fill="none" stroke="#dc4f68" stroke-width="0.7"/>
<circle cx="530.50" cy="180.30" r="2.5" fill="none" stroke="#dc4f68" stroke-width="0.7"/>
<circle cx="535.30" cy="185.30" r="2.5" fill="none" stroke="#dc4f68" stroke-width="0.7"/>
<circle cx="548.00" cy="178.00" r="2.5" fill="none" stroke="#dc4f68" stroke-width="0.7"/>
<circle cx="548.00" cy="183.60" r="2.5" fill="none" stroke="#dc4f68" stroke-width="0.7"/>
<circle cx="548.00" cy="188.70" r="2.5" fill="none" stroke="#dc4f68" stroke-width="0.7"/>
<circle cx="553.10" cy="183.60" r="2.5" fill="none" stroke="#dc4f68" stroke-width="0.7"/>
<circle cx="553.10" cy="187.60" r="2.5" fill="none" stroke="#dc4f68" stroke-width="0.7"/>
<circle cx="564.60" cy="178.10" r="2.5" fill="none" stroke="#dc4f68" stroke-width="0.7"/>
<circle cx="565.40" cy="190.70" r="2.5" fill="none" stroke="#dc4f68" stroke-width="0.7"/>
<circle cx="574.80" cy="196.20" r="2.5" fill="none" stroke="#dc4f68" stroke-width="0.7"/>
<circle cx="579.10" cy="180.00" r="2.5" fill="none" stroke="#dc4f68" stroke-width="0.7"/>
<circle cx="580.30" cy="178.80" r="2.5" fill="none" stroke="#dc4f68" stroke-width="0.7"/>
<circle cx="587.10" cy="181.70" r="2.5" fill="none" stroke="#dc4f68" stroke-width="0.7"/>
<circle cx="590.70" cy="176.00" r="2.5" fill="none" stroke="#dc4f68" stroke-width="0.7"/>
<circle cx="594.80" cy="169.40" r="2.5" fill="none" stroke="#dc4f68" stroke-width="0.7"/>
<circle cx="594.80" cy="180.30" r="2.5" fill="none" stroke="#dc4f68" stroke-width="0.7"/>
<circle cx="598.70" cy="181.70" r="2.5" fill="none" stroke="#dc4f68" stroke-width="0.7"/>
<circle cx="601.20" cy="173.00" r="2.5" fill="none" stroke="#dc4f68" stroke-width="0.7"/>
<circle cx="602.30" cy="178.10" r="2.5" fill="none" stroke="#dc4f68" stroke-width="0.7"/>
<circle cx="603.00" cy="184.60" r="2.5" fill="none" stroke="#dc4f68" stroke-width="0.7"/>
<circle cx="606.00" cy="178.10" r="2.5" fill="none" stroke="#dc4f68" stroke-width="0.7"/>
<circle cx="608.10" cy="174.50" r="2.5" fill="none" stroke="#dc4f68" stroke-width="0.7"/>
<circle cx="608.10" cy="181.00" r="2.5" fill="none" stroke="#dc4f68" stroke-width="0.7"/>
<circle cx="612.50" cy="178.80" r="2.5" fill="none" stroke="#dc4f68" stroke-width="0.7"/>
<circle cx="614.60" cy="177.40" r="2.5" fill="none" stroke="#dc4f68" stroke-width="0.7"/>
<circle cx="614.60" cy="184.60" r="2.5" fill="none" stroke="#dc4f68" stroke-width="0.7"/>
<circle cx="611.00" cy="189.70" r="2.5" fill="none" stroke="#dc4f68" stroke-width="0.7"/>
<circle cx="618.30" cy="171.60" r="2.5" fill="none" stroke="#dc4f68" stroke-width="0.7"/>
<circle cx="623.30" cy="174.50" r="2.5" fill="none" stroke="#dc4f68" stroke-width="0.7"/>
<text x="508.50" y="64.60" font-size="9.0" text-anchor="middle" fill="#111">Prin 3</text>
<text x="589.50" y="65.00" font-size="9.0" text-anchor="middle" fill="#111">Prin 2</text>
<text x="482.00" y="76.50" font-size="6.2" text-anchor="middle" fill="#505050">3</text>
<text x="494.40" y="75.90" font-size="6.2" text-anchor="middle" fill="#505050">2</text>
<text x="506.00" y="75.30" font-size="6.2" text-anchor="middle" fill="#505050">1</text>
<text x="516.50" y="74.70" font-size="6.2" text-anchor="middle" fill="#505050">0</text>
<text x="526.70" y="74.20" font-size="6.2" text-anchor="middle" fill="#505050">-1</text>
<text x="536.50" y="73.60" font-size="6.2" text-anchor="middle" fill="#505050">-2</text>
<text x="550.40" y="73.40" font-size="6.2" text-anchor="middle" fill="#505050">3</text>
<text x="565.60" y="74.20" font-size="6.2" text-anchor="middle" fill="#505050">2</text>
<text x="581.30" y="74.20" font-size="6.2" text-anchor="middle" fill="#505050">1</text>
<text x="597.30" y="74.80" font-size="6.2" text-anchor="middle" fill="#505050">0</text>
<text x="613.40" y="75.50" font-size="6.2" text-anchor="middle" fill="#505050">-1</text>
<text x="630.60" y="76.20" font-size="6.2" text-anchor="middle" fill="#505050">-2</text>
<text x="647.20" y="76.50" font-size="6.2" text-anchor="middle" fill="#505050">-3</text>
<text x="472.40" y="95.40" font-size="6.2" text-anchor="middle" fill="#505050">6</text>
<text x="472.40" y="120.50" font-size="6.2" text-anchor="middle" fill="#505050">4</text>
<text x="472.40" y="146.40" font-size="6.2" text-anchor="middle" fill="#505050">2</text>
<text x="472.40" y="170.50" font-size="6.2" text-anchor="middle" fill="#505050">0</text>
<text x="472.40" y="195.70" font-size="6.2" text-anchor="middle" fill="#505050">-2</text>
<text x="472.40" y="218.40" font-size="6.2" text-anchor="middle" fill="#505050">-4</text>
<text x="650.20" y="92.90" font-size="6.2" text-anchor="middle" fill="#505050">6</text>
<text x="650.20" y="115.00" font-size="6.2" text-anchor="middle" fill="#505050">4</text>
<text x="649.00" y="137.00" font-size="6.2" text-anchor="middle" fill="#505050">2</text>
<text x="648.00" y="158.70" font-size="6.2" text-anchor="middle" fill="#505050">0</text>
<text x="648.00" y="180.00" font-size="6.2" text-anchor="middle" fill="#505050">-2</text>
<text x="647.00" y="200.20" font-size="6.2" text-anchor="middle" fill="#505050">-4</text>
<text x="478.00" y="222.00" font-size="6.2" text-anchor="middle" fill="#505050">4</text>
<text x="494.40" y="224.60" font-size="6.2" text-anchor="middle" fill="#505050">3</text>
<text x="511.20" y="228.00" font-size="6.2" text-anchor="middle" fill="#505050">2</text>
<text x="528.60" y="231.70" font-size="6.2" text-anchor="middle" fill="#505050">1</text>
<text x="547.80" y="235.40" font-size="6.2" text-anchor="middle" fill="#505050">0</text>
<text x="565.60" y="237.00" font-size="6.2" text-anchor="middle" fill="#505050">-1</text>
<text x="585.80" y="240.10" font-size="6.2" text-anchor="middle" fill="#505050">-2</text>
<text x="606.50" y="243.20" font-size="6.2" text-anchor="middle" fill="#505050">-3</text>
<text x="614.30" y="235.00" font-size="6.2" text-anchor="middle" fill="#505050">3</text>
<text x="621.20" y="226.40" font-size="6.2" text-anchor="middle" fill="#505050">2</text>
<text x="627.70" y="219.50" font-size="6.2" text-anchor="middle" fill="#505050">1</text>
<text x="634.40" y="212.50" font-size="6.2" text-anchor="middle" fill="#505050">0</text>
<text x="641.40" y="206.50" font-size="6.2" text-anchor="middle" fill="#505050">-1</text>
<text transform="translate(462.30,149.50) rotate(-90.0)" font-size="9.8" text-anchor="middle" fill="#111">Prin 1</text>
<text transform="translate(663.30,141.40) rotate(-90.0)" font-size="9.8" text-anchor="middle" fill="#111">Prin 1</text>
<text transform="translate(537.6,245.4) rotate(10) skewX(-10)" font-size="10" text-anchor="middle" fill="#111">Prin 2</text>
<text transform="translate(643.50,222.60) rotate(-43.0)" font-size="9.8" text-anchor="middle" fill="#111">Prin 3</text>
</svg>
</body></html>
